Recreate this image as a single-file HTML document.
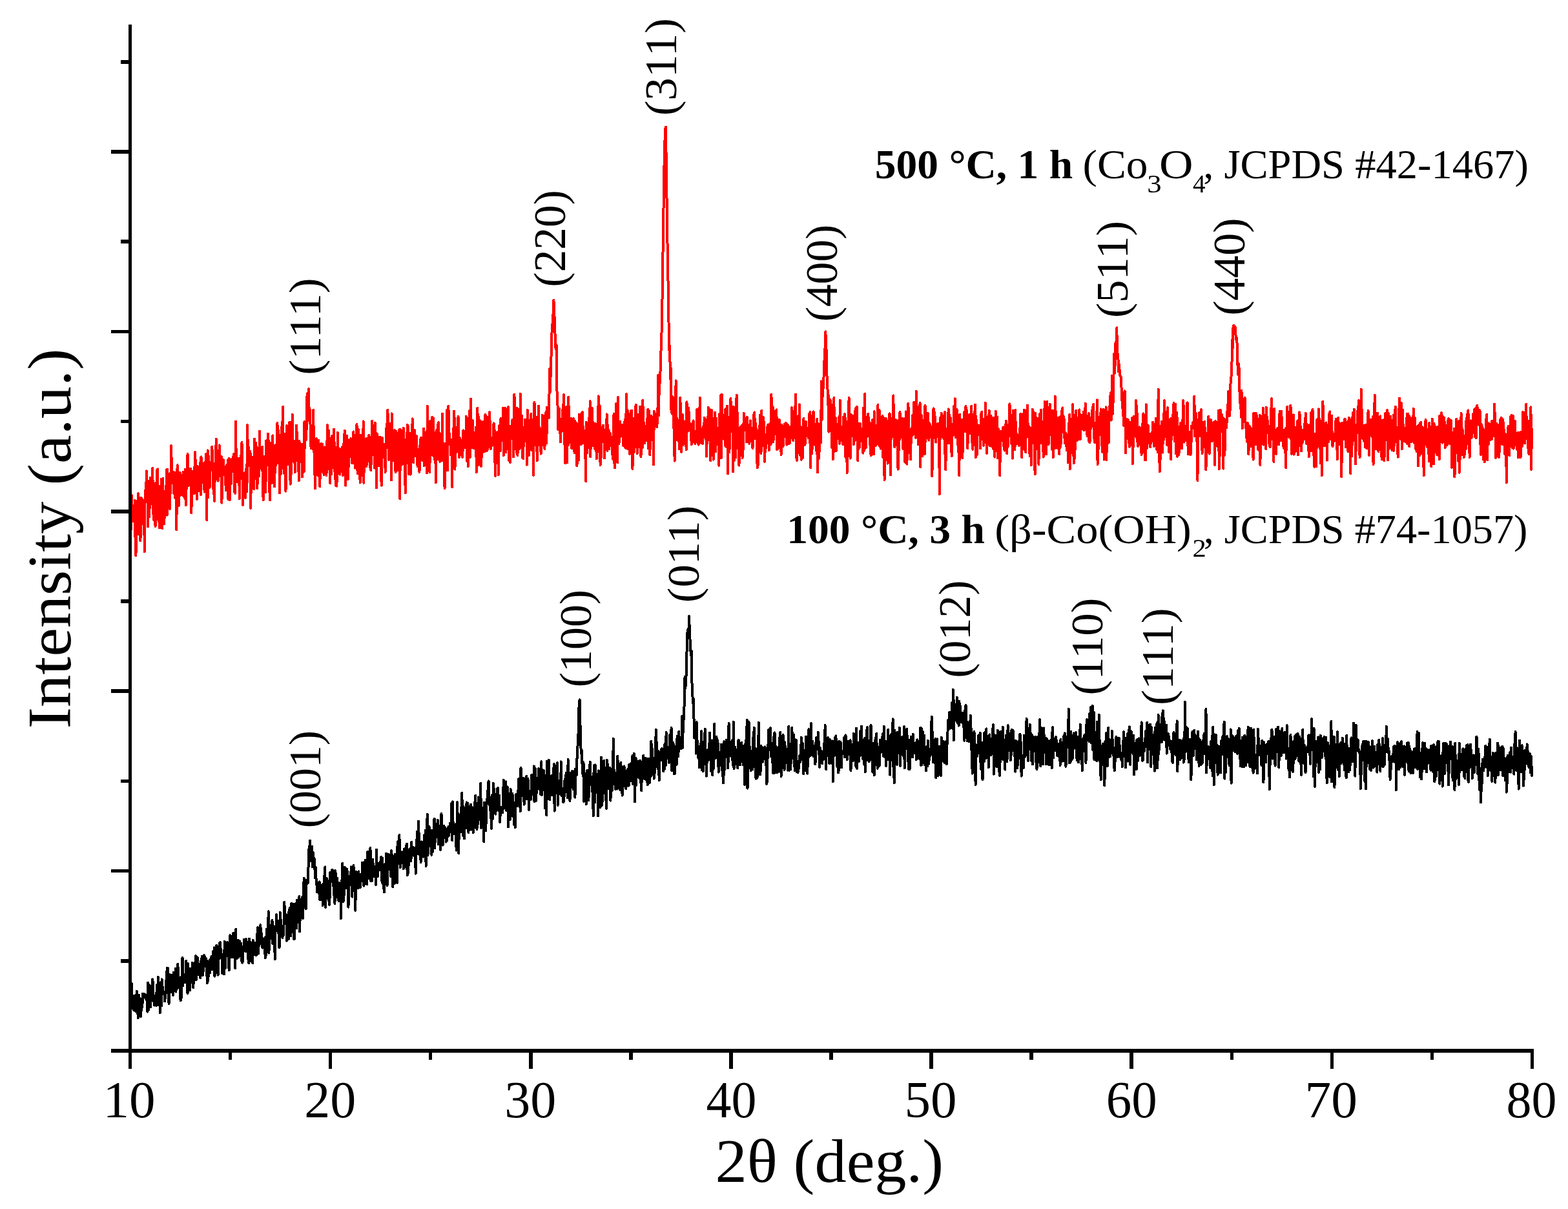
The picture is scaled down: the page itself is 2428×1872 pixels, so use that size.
<!DOCTYPE html>
<html lang="en"><head><meta charset="utf-8"><title>XRD patterns</title>
<style>html,body{margin:0;padding:0;background:#fff}svg{display:block}text{font-family:"Liberation Serif", "DejaVu Serif", serif;fill:#000;white-space:pre}</style></head><body>
<svg width="2428" height="1872" viewBox="0 0 2428 1872">
<rect width="2428" height="1872" fill="#fff"/>
<path d="M201.5,1590.4 202.22,1558.6 202.95,1555 203.67,1522.9 204.39,1560.5 205.12,1555.3 205.84,1551.4 206.57,1563.4 207.29,1564.4 208.01,1541.6 208.74,1543.5 209.46,1548.8 210.18,1565.8 210.91,1563 211.63,1534.6 212.36,1536.6 213.08,1563.7 213.8,1576.1 214.53,1550.6 215.25,1540.8 215.97,1567.6 216.7,1545.6 217.42,1561.1 218.15,1573.7 218.87,1558.9 219.59,1549.9 220.32,1559.9 221.04,1538.7 221.76,1545.1 222.49,1539 223.21,1544 223.93,1539.6 224.66,1543.6 225.38,1540.4 226.11,1547 226.83,1546.3 227.55,1549.6 228.28,1566.6 229,1521.8 229.72,1564.3 230.45,1540.1 231.17,1525.3 231.9,1540.4 232.62,1544 233.34,1559 234.07,1526.4 234.79,1544.9 235.51,1543 236.24,1516.3 236.96,1523.2 237.69,1549.6 238.41,1550.7 239.13,1556.6 239.86,1547.5 240.58,1545 241.3,1540.3 242.03,1557 242.75,1525.2 243.47,1534.9 244.2,1542.5 244.92,1513 245.65,1556.1 246.37,1523.5 247.09,1533.5 247.82,1568 248.54,1521.5 249.26,1525.3 249.99,1557.2 250.71,1516.3 251.44,1525.3 252.16,1539.2 252.88,1537.8 253.61,1539.5 254.33,1535.5 255.05,1550.4 255.78,1544.7 256.5,1537.6 257.22,1517.7 257.95,1516.8 258.67,1498.9 259.4,1537.1 260.12,1499.1 260.84,1539.1 261.57,1553.9 262.29,1508.8 263.01,1513.8 263.74,1516.4 264.46,1535.9 265.19,1509.7 265.91,1520 266.63,1513.7 267.36,1517.2 268.08,1540.8 268.8,1505.8 269.53,1520.7 270.25,1523.5 270.98,1532.4 271.7,1500 272.42,1535.7 273.15,1524.6 273.87,1531.2 274.59,1518.2 275.32,1492.7 276.04,1506.8 276.76,1528.9 277.49,1516.2 278.21,1514.5 278.94,1543.2 279.66,1549.3 280.38,1513.6 281.11,1544.3 281.83,1484.2 282.55,1483 283.28,1526.4 284,1508.5 284.73,1521.1 285.45,1519.7 286.17,1509.9 286.9,1521.6 287.62,1512.9 288.34,1487.7 289.07,1513.2 289.79,1512.3 290.52,1538 291.24,1492.1 291.96,1508.6 292.69,1501.7 293.41,1505.6 294.13,1533.5 294.86,1512.8 295.58,1499.7 296.3,1508.6 297.03,1517.9 297.75,1490.8 298.48,1501.2 299.2,1529.1 299.92,1517.9 300.65,1503.3 301.37,1496.6 302.09,1501 302.82,1480.1 303.54,1517.4 304.27,1507.6 304.99,1504 305.71,1482.4 306.44,1490.6 307.16,1508.9 307.88,1504.4 308.61,1492.7 309.33,1507.6 310.06,1514.1 310.78,1489 311.5,1490.7 312.23,1485.4 312.95,1480.8 313.67,1510.1 314.4,1505.2 315.12,1502.1 315.84,1479.1 316.57,1480.6 317.29,1494.6 318.02,1489.2 318.74,1496.8 319.46,1484.3 320.19,1504.6 320.91,1522.4 321.63,1518 322.36,1518.7 323.08,1493.9 323.81,1507 324.53,1486.5 325.25,1506.3 325.98,1485.8 326.7,1483.8 327.42,1481.2 328.15,1501.4 328.87,1494.3 329.59,1492.6 330.32,1472.5 331.04,1491.2 331.77,1467.4 332.49,1511.7 333.21,1486 333.94,1490.6 334.66,1485.7 335.38,1463.5 336.11,1466.3 336.83,1485.7 337.56,1509.6 338.28,1469.1 339,1474.7 339.73,1484.1 340.45,1459.6 341.17,1459.1 341.9,1477.7 342.62,1482.7 343.35,1477.3 344.07,1507.1 344.79,1480 345.52,1487.8 346.24,1507.1 346.96,1508.5 347.69,1457.6 348.41,1475.1 349.13,1498.8 349.86,1459.6 350.58,1466 351.31,1460.1 352.03,1458.9 352.75,1462 353.48,1481.2 354.2,1498.3 354.92,1502.2 355.65,1477.7 356.37,1448.2 357.1,1476.1 357.82,1471.7 358.54,1482 359.27,1474.2 359.99,1449.3 360.71,1482.1 361.44,1444.7 362.16,1464.7 362.89,1479.6 363.61,1479.9 364.33,1499.1 365.06,1438.9 365.78,1478.9 366.5,1484.2 367.23,1468.1 367.95,1482.8 368.67,1456 369.4,1482.5 370.12,1480.3 370.85,1456.9 371.57,1461.3 372.29,1468.1 373.02,1460.9 373.74,1487 374.46,1472.8 375.19,1490.7 375.91,1488.2 376.64,1470.1 377.36,1466 378.08,1454.5 378.81,1456.3 379.53,1456.1 380.25,1473.2 380.98,1454.2 381.7,1468.2 382.43,1469.7 383.15,1458.9 383.87,1463.2 384.6,1488.7 385.32,1491.1 386.04,1453.4 386.77,1461.8 387.49,1458.8 388.21,1459.9 388.94,1488.2 389.66,1474.3 390.39,1483.2 391.11,1491.1 391.83,1455.8 392.56,1459.2 393.28,1462.3 394,1477.8 394.73,1459.7 395.45,1471 396.18,1479.1 396.9,1478.7 397.62,1466.9 398.35,1447.7 399.07,1436 399.79,1476.7 400.52,1465.7 401.24,1444.2 401.96,1450.3 402.69,1450.8 403.41,1432.2 404.14,1460.8 404.86,1444.7 405.58,1451.7 406.31,1467.6 407.03,1453.9 407.75,1463.7 408.48,1461.3 409.2,1454.7 409.93,1454.5 410.65,1483.2 411.37,1450.4 412.1,1478.7 412.82,1438.6 413.54,1463.5 414.27,1454.1 414.99,1440.1 415.72,1411.2 416.44,1475.8 417.16,1432.6 417.89,1435.1 418.61,1451.1 419.33,1449.5 420.06,1452.7 420.78,1444 421.5,1425.1 422.23,1460.9 422.95,1433.2 423.68,1449.8 424.4,1455 425.12,1464.4 425.85,1485 426.57,1440.1 427.29,1440.7 428.02,1416.3 428.74,1432.2 429.47,1428.1 430.19,1425.5 430.91,1444.9 431.64,1437.2 432.36,1467.1 433.08,1465 433.81,1412.5 434.53,1441.7 435.26,1424.1 435.98,1447.3 436.7,1440.2 437.43,1451.9 438.15,1441.2 438.87,1447.7 439.6,1430.3 440.32,1396.7 441.04,1415.6 441.77,1419.8 442.49,1424.6 443.22,1416.1 443.94,1456.7 444.66,1427.2 445.39,1449.8 446.11,1423.2 446.83,1454.2 447.56,1408.9 448.28,1435.7 449.01,1405.5 449.73,1431.7 450.45,1449.4 451.18,1398.8 451.9,1409.4 452.62,1425.6 453.35,1418.2 454.07,1399.8 454.8,1438.1 455.52,1454.5 456.24,1438.8 456.97,1422.4 457.69,1399.3 458.41,1408.5 459.14,1437.2 459.86,1393.5 460.58,1406.5 461.31,1422.3 462.03,1428.1 462.76,1424.2 463.48,1387.9 464.2,1442.6 464.93,1405.6 465.65,1407.3 466.37,1406 467.1,1401.5 467.82,1389.2 468.55,1397.4 469.27,1421.9 469.99,1378.2 470.72,1360.1 471.44,1402.2 472.16,1395.4 472.89,1397 473.61,1407.2 474.33,1362.9 475.06,1368.8 475.78,1365.6 476.51,1367.7 477.23,1356 477.95,1323.5 478.68,1311 479.4,1320 480.12,1301.4 480.85,1333.4 481.57,1314.7 482.3,1315.9 483.02,1310.6 483.74,1342.4 484.47,1327.6 485.19,1320.4 485.91,1336.1 486.64,1329.9 487.36,1343.5 488.09,1359.3 488.81,1342.4 489.53,1359.8 490.26,1365.3 490.98,1381.3 491.7,1378 492.43,1373.4 493.15,1366.8 493.87,1383.9 494.6,1365.5 495.32,1393.1 496.05,1384.4 496.77,1392.8 497.49,1376.4 498.22,1372.2 498.94,1370.5 499.66,1402 500.39,1380.6 501.11,1380.2 501.84,1356.6 502.56,1382.3 503.28,1342.4 504.01,1404.7 504.73,1378.7 505.45,1382.4 506.18,1360.3 506.9,1365 507.63,1390.9 508.35,1377.7 509.07,1387.4 509.8,1400.8 510.52,1390.6 511.24,1350.9 511.97,1364.3 512.69,1361.7 513.41,1364.8 514.14,1346.8 514.86,1346.9 515.59,1366.2 516.31,1368.1 517.03,1385.2 517.76,1371.5 518.48,1399.2 519.2,1348.2 519.93,1354.4 520.65,1379.1 521.38,1370.5 522.1,1359.4 522.82,1386.5 523.55,1391.4 524.27,1394.7 524.99,1366.9 525.72,1372.4 526.44,1375.9 527.17,1372.8 527.89,1422.4 528.61,1363.7 529.34,1376.8 530.06,1336.9 530.78,1382.4 531.51,1396.4 532.23,1368.8 532.95,1385.8 533.68,1343.1 534.4,1362.9 535.13,1344.1 535.85,1372.4 536.57,1375.3 537.3,1345.5 538.02,1353 538.74,1356.6 539.47,1404.8 540.19,1363.5 540.92,1366.2 541.64,1369.8 542.36,1368.3 543.09,1359.4 543.81,1342.3 544.53,1351.8 545.26,1388.6 545.98,1365.6 546.7,1355.3 547.43,1339.9 548.15,1359.3 548.88,1360.2 549.6,1349.3 550.32,1409.8 551.05,1349.5 551.77,1355.5 552.49,1371.5 553.22,1360.9 553.94,1375.3 554.67,1352.9 555.39,1349.4 556.11,1363.3 556.84,1358.7 557.56,1374.3 558.28,1361 559.01,1353.5 559.73,1360.9 560.46,1363.9 561.18,1335.5 561.9,1350.1 562.63,1346.9 563.35,1371.7 564.07,1344.2 564.8,1369 565.52,1331.8 566.24,1350.1 566.97,1368.4 567.69,1346.5 568.42,1369.4 569.14,1319 569.86,1350.3 570.59,1352.3 571.31,1347.5 572.03,1326 572.76,1360 573.48,1313 574.21,1364.3 574.93,1353.2 575.65,1364.5 576.38,1344 577.1,1330.6 577.82,1339.5 578.55,1340.1 579.27,1357 580,1342 580.72,1353.5 581.44,1354.5 582.17,1369.9 582.89,1315.4 583.61,1339.6 584.34,1357.1 585.06,1356.9 585.78,1336.6 586.51,1340.9 587.23,1343.4 587.96,1346.8 588.68,1335.7 589.4,1334.3 590.13,1326.7 590.85,1337.9 591.57,1366.8 592.3,1328.7 593.02,1359.3 593.75,1375.4 594.47,1346.1 595.19,1381.6 595.92,1339.6 596.64,1369.2 597.36,1340.1 598.09,1321.7 598.81,1345.8 599.54,1371.1 600.26,1330 600.98,1346.7 601.71,1322.7 602.43,1324 603.15,1344.9 603.88,1333.9 604.6,1345.9 605.32,1357.3 606.05,1317.1 606.77,1324.3 607.5,1335.3 608.22,1373 608.94,1328.6 609.67,1325.7 610.39,1340.2 611.11,1367.8 611.84,1322.8 612.56,1326.7 613.29,1331.8 614.01,1343.3 614.73,1366.9 615.46,1310.3 616.18,1303.3 616.9,1331.5 617.63,1337.4 618.35,1293.1 619.07,1317.9 619.8,1343.3 620.52,1318.4 621.25,1334.4 621.97,1328.7 622.69,1336.3 623.42,1332.2 624.14,1328.9 624.86,1345 625.59,1314.7 626.31,1325.2 627.04,1341.9 627.76,1313.5 628.48,1316.1 629.21,1309.8 629.93,1306.5 630.65,1355.1 631.38,1328.5 632.1,1351.9 632.83,1332.2 633.55,1320.7 634.27,1314.4 635,1323.1 635.72,1317.5 636.44,1333.2 637.17,1303.6 637.89,1319.9 638.61,1324.4 639.34,1312.5 640.06,1312 640.79,1324.7 641.51,1324.5 642.23,1312.9 642.96,1314 643.68,1352.6 644.4,1322.8 645.13,1311 645.85,1287.8 646.58,1307.1 647.3,1322.1 648.02,1271.4 648.75,1296.8 649.47,1322.9 650.19,1320.2 650.92,1319.9 651.64,1335 652.37,1303.3 653.09,1318.5 653.81,1303.6 654.54,1324.1 655.26,1326.6 655.98,1314.8 656.71,1318.7 657.43,1292.7 658.15,1315.8 658.88,1285.8 659.6,1341.1 660.33,1323.4 661.05,1279 661.77,1260.6 662.5,1324.4 663.22,1288.2 663.94,1310.5 664.67,1280.2 665.39,1301.5 666.12,1289.5 666.84,1309.5 667.56,1293.5 668.29,1323.8 669.01,1285.9 669.73,1319.4 670.46,1296.7 671.18,1305.5 671.91,1270.8 672.63,1267.8 673.35,1313.2 674.08,1275.3 674.8,1288.9 675.52,1288.8 676.25,1279.1 676.97,1296.4 677.69,1270.1 678.42,1273.2 679.14,1307.5 679.87,1278.4 680.59,1303.5 681.31,1301.7 682.04,1315.9 682.76,1297.2 683.48,1259.8 684.21,1278.2 684.93,1281.5 685.66,1308.7 686.38,1293.1 687.1,1279 687.83,1293.8 688.55,1280.2 689.27,1294.9 690,1287.6 690.72,1303.7 691.44,1290 692.17,1301 692.89,1283.2 693.62,1295.3 694.34,1280.2 695.06,1293.4 695.79,1285.7 696.51,1279.5 697.23,1274.4 697.96,1276.3 698.68,1288.5 699.41,1243.3 700.13,1301 700.85,1241.3 701.58,1275.8 702.3,1273.1 703.02,1290.8 703.75,1281.7 704.47,1276.6 705.2,1278.3 705.92,1292.9 706.64,1316.6 707.37,1282.3 708.09,1242.3 708.81,1268.2 709.54,1281.8 710.26,1321 710.98,1261.5 711.71,1267.4 712.43,1282.7 713.16,1278.3 713.88,1251 714.6,1288.3 715.33,1228 716.05,1266.8 716.77,1293.7 717.5,1249.1 718.22,1264.4 718.95,1298.6 719.67,1265 720.39,1251.9 721.12,1259 721.84,1282.6 722.56,1242.4 723.29,1257.2 724.01,1243.6 724.74,1248.1 725.46,1288.9 726.18,1264.8 726.91,1258.8 727.63,1273 728.35,1253.8 729.08,1245.5 729.8,1284.7 730.52,1279.7 731.25,1250.4 731.97,1276.1 732.7,1289 733.42,1271.8 734.14,1271.6 734.87,1242.5 735.59,1260.1 736.31,1231.7 737.04,1281.2 737.76,1258.6 738.49,1284.3 739.21,1248.2 739.93,1275.8 740.66,1234.4 741.38,1253.3 742.1,1269.2 742.83,1265.5 743.55,1258 744.28,1212.7 745,1281.7 745.72,1269.7 746.45,1277.9 747.17,1277.3 747.89,1251 748.62,1263.8 749.34,1303.3 750.06,1242.5 750.79,1263.1 751.51,1246.5 752.24,1286.3 752.96,1258.1 753.68,1237.7 754.41,1244.5 755.13,1231 755.85,1216.3 756.58,1209.4 757.3,1241 758.03,1234 758.75,1254.9 759.47,1238.3 760.2,1255.6 760.92,1282.8 761.64,1231.4 762.37,1230.5 763.09,1267.7 763.81,1212.7 764.54,1235 765.26,1221.2 765.99,1243.9 766.71,1241.7 767.43,1260.7 768.16,1230.1 768.88,1242.9 769.6,1241.8 770.33,1220.4 771.05,1220.2 771.78,1253.8 772.5,1255.3 773.22,1231.9 773.95,1272.8 774.67,1261.2 775.39,1252.4 776.12,1254.6 776.84,1249.6 777.57,1255.9 778.29,1258.2 779.01,1243.5 779.74,1207.7 780.46,1238.8 781.18,1227.3 781.91,1221 782.63,1251.2 783.35,1210.4 784.08,1254.7 784.8,1228.7 785.53,1218.5 786.25,1224.1 786.97,1280.5 787.7,1264.5 788.42,1232.8 789.14,1256.5 789.87,1269.1 790.59,1222 791.32,1231.5 792.04,1252.6 792.76,1242.9 793.49,1229.1 794.21,1264.5 794.93,1243.9 795.66,1248.7 796.38,1277.5 797.11,1242.6 797.83,1281.5 798.55,1238.7 799.28,1230.1 800,1234.8 800.72,1248 801.45,1243.8 802.17,1238.3 802.89,1206.1 803.62,1212.5 804.34,1226 805.07,1243.5 805.79,1256.2 806.51,1189 807.24,1226.7 807.96,1221.1 808.68,1226.7 809.41,1232 810.13,1213.4 810.86,1205.1 811.58,1245.7 812.3,1240.6 813.03,1219.5 813.75,1224.2 814.47,1214.2 815.2,1201.7 815.92,1237.1 816.65,1213.6 817.37,1205.6 818.09,1214.1 818.82,1253.9 819.54,1231.7 820.26,1227.6 820.99,1224.6 821.71,1238.4 822.43,1235.7 823.16,1199.8 823.88,1217.6 824.61,1210.3 825.33,1224.9 826.05,1219.6 826.78,1186.3 827.5,1241.1 828.22,1224.5 828.95,1190 829.67,1240.4 830.4,1221.5 831.12,1227.7 831.84,1219.4 832.57,1221.7 833.29,1210 834.01,1190.1 834.74,1207.7 835.46,1221.4 836.18,1218.6 836.91,1229.7 837.63,1216 838.36,1179.2 839.08,1230.7 839.8,1203.3 840.53,1194.1 841.25,1211.3 841.97,1193.3 842.7,1223 843.42,1200.5 844.15,1251.7 844.87,1211.7 845.59,1206.3 846.32,1262 847.04,1178.6 847.76,1200.5 848.49,1202.2 849.21,1209.4 849.94,1177 850.66,1215.5 851.38,1238.3 852.11,1207.2 852.83,1213.5 853.55,1222.1 854.28,1200.5 855,1206.6 855.72,1231.5 856.45,1217.3 857.17,1192.8 857.9,1183.2 858.62,1255.8 859.34,1221.7 860.07,1186.3 860.79,1216.3 861.51,1225.9 862.24,1215.6 862.96,1181.3 863.69,1246.9 864.41,1224.5 865.13,1210.1 865.86,1226.1 866.58,1209.6 867.3,1207.7 868.03,1229.9 868.75,1179.4 869.48,1231.9 870.2,1220.7 870.92,1227.4 871.65,1230.3 872.37,1242.2 873.09,1240 873.82,1229.7 874.54,1206.6 875.26,1226 875.99,1204.9 876.71,1196.7 877.44,1221.6 878.16,1219.7 878.88,1235.1 879.61,1176 880.33,1223.9 881.05,1225.1 881.78,1214.6 882.5,1239.9 883.23,1197.1 883.95,1218.2 884.67,1205.2 885.4,1211.1 886.12,1194.2 886.84,1208 887.57,1222.4 888.29,1211.4 889.02,1214.6 889.74,1193.8 890.46,1234.6 891.19,1190.3 891.91,1198 892.63,1200.7 893.36,1175.2 894.08,1173.7 894.8,1141.9 895.53,1136.4 896.25,1099.1 896.98,1087.9 897.7,1083.3 898.42,1118.5 899.15,1152 899.87,1166.3 900.59,1161.6 901.32,1179.7 902.04,1192.6 902.77,1201.7 903.49,1180.4 904.21,1240.8 904.94,1205.4 905.66,1210.1 906.38,1201 907.11,1208.4 907.83,1245.3 908.55,1193.5 909.28,1201.1 910,1192.4 910.73,1201 911.45,1239.1 912.17,1199.9 912.9,1202.9 913.62,1179.7 914.34,1204.7 915.07,1215.3 915.79,1202.6 916.52,1204.2 917.24,1226 917.96,1221 918.69,1263.4 919.41,1197.7 920.13,1185.2 920.86,1242.5 921.58,1184.5 922.31,1223.2 923.03,1207.8 923.75,1198.5 924.48,1227.7 925.2,1198.4 925.92,1263.4 926.65,1193.4 927.37,1220.3 928.09,1234.9 928.82,1194.3 929.54,1250.2 930.27,1227 930.99,1172.8 931.71,1236.9 932.44,1246.6 933.16,1206.4 933.88,1207.5 934.61,1217.8 935.33,1178 936.06,1213.7 936.78,1228.2 937.5,1201.2 938.23,1231.5 938.95,1251.9 939.67,1176.6 940.4,1179 941.12,1197.8 941.85,1221.5 942.57,1216.4 943.29,1193 944.02,1188.9 944.74,1195.5 945.46,1239.6 946.19,1190.9 946.91,1197 947.63,1224.6 948.36,1201.7 949.08,1188.7 949.81,1143.8 950.53,1211.6 951.25,1193 951.98,1197.9 952.7,1221.8 953.42,1197.6 954.15,1208.5 954.87,1220 955.6,1221.7 956.32,1170.6 957.04,1193.8 957.77,1196.1 958.49,1203.5 959.21,1215.8 959.94,1222.9 960.66,1192.7 961.39,1181 962.11,1203.6 962.83,1189.1 963.56,1231.8 964.28,1205.7 965,1199.7 965.73,1217 966.45,1186.4 967.17,1191.5 967.9,1194.1 968.62,1209.1 969.35,1221 970.07,1211 970.79,1210 971.52,1191.4 972.24,1202.2 972.96,1190.9 973.69,1216.6 974.41,1183.6 975.14,1193.2 975.86,1198.9 976.58,1209 977.31,1181.3 978.03,1189.8 978.75,1179.3 979.48,1170.1 980.2,1213.9 980.92,1201.9 981.65,1166.8 982.37,1175.8 983.1,1241.4 983.82,1181.9 984.54,1173.9 985.27,1215.9 985.99,1183.5 986.71,1185.3 987.44,1202.3 988.16,1179 988.89,1191.8 989.61,1194.2 990.33,1205.1 991.06,1177.8 991.78,1211.1 992.5,1196.9 993.23,1224.2 993.95,1194.3 994.68,1180.5 995.4,1180.3 996.12,1169.7 996.85,1189.3 997.57,1188 998.29,1205.9 999.02,1190.4 999.74,1173.7 1000.46,1207.8 1001.19,1180.6 1001.91,1193.1 1002.64,1215.5 1003.36,1211.8 1004.08,1174.5 1004.81,1185.1 1005.53,1212.3 1006.25,1205.2 1006.98,1196.5 1007.7,1202.7 1008.43,1147.5 1009.15,1180 1009.87,1159.4 1010.6,1173.2 1011.32,1177.3 1012.04,1192.8 1012.77,1205.7 1013.49,1198 1014.22,1187.8 1014.94,1176 1015.66,1130 1016.39,1186.6 1017.11,1149.9 1017.83,1179.6 1018.56,1189.9 1019.28,1163 1020,1183.8 1020.73,1208.2 1021.45,1174.4 1022.18,1177.6 1022.9,1177.4 1023.62,1160.5 1024.35,1169 1025.07,1159.1 1025.79,1171.4 1026.52,1161.9 1027.24,1194.1 1027.97,1173.4 1028.69,1191.2 1029.41,1152.2 1030.14,1173.9 1030.86,1184.8 1031.58,1134 1032.31,1162 1033.03,1170.8 1033.76,1174.2 1034.48,1165.7 1035.2,1164 1035.93,1180.9 1036.65,1149.2 1037.37,1137.4 1038.1,1160.4 1038.82,1173.8 1039.54,1127 1040.27,1193 1040.99,1168.1 1041.72,1176.7 1042.44,1149.9 1043.16,1163.4 1043.89,1198.3 1044.61,1198.3 1045.33,1173.6 1046.06,1155.7 1046.78,1157.8 1047.51,1184 1048.23,1144.8 1048.95,1139.7 1049.68,1152.5 1050.4,1170.9 1051.12,1132.8 1051.85,1156.7 1052.57,1155.5 1053.29,1149.1 1054.02,1141.8 1054.74,1159.3 1055.47,1149.1 1056.19,1109.1 1056.91,1158.2 1057.64,1130.6 1058.36,1120.1 1059.08,1100 1059.81,1090.3 1060.53,1047.7 1061.26,1065 1061.98,1059.5 1062.7,1042.4 1063.43,1012.7 1064.15,981 1064.87,977.4 1065.6,973.3 1066.32,981.9 1067.05,954.2 1067.77,974.1 1068.49,990 1069.22,1004.6 1069.94,1014.3 1070.66,1007.4 1071.39,1056.6 1072.11,1067.4 1072.83,1088.5 1073.56,1080.7 1074.28,1098.8 1075.01,1142.1 1075.73,1123.4 1076.45,1132.1 1077.18,1125.8 1077.9,1166.7 1078.62,1118.2 1079.35,1141.2 1080.07,1161.4 1080.8,1154.9 1081.52,1174.5 1082.24,1167.3 1082.97,1188.5 1083.69,1157.9 1084.41,1160.5 1085.14,1169 1085.86,1132.1 1086.59,1192.4 1087.31,1148.9 1088.03,1187.9 1088.76,1194.4 1089.48,1186.4 1090.2,1170.7 1090.93,1155.7 1091.65,1128.7 1092.37,1178.7 1093.1,1163.6 1093.82,1201.7 1094.55,1162.8 1095.27,1180.6 1095.99,1161.1 1096.72,1176.9 1097.44,1162.3 1098.16,1165.6 1098.89,1134.4 1099.61,1155.7 1100.34,1166 1101.06,1193.9 1101.78,1174.1 1102.51,1146.5 1103.23,1200.1 1103.95,1175.8 1104.68,1190.8 1105.4,1152.3 1106.13,1120.7 1106.85,1154.7 1107.57,1150 1108.3,1173.9 1109.02,1140.5 1109.74,1152.3 1110.47,1143.6 1111.19,1171.2 1111.91,1151.5 1112.64,1195.6 1113.36,1184 1114.09,1185 1114.81,1164.5 1115.53,1173 1116.26,1185.4 1116.98,1152.8 1117.7,1192.8 1118.43,1166.8 1119.15,1193.1 1119.88,1212.5 1120.6,1198.9 1121.32,1148.2 1122.05,1191.9 1122.77,1162 1123.49,1160 1124.22,1163.3 1124.94,1146 1125.66,1172.3 1126.39,1154.3 1127.11,1189.4 1127.84,1173.6 1128.56,1119.8 1129.28,1149.4 1130.01,1148.4 1130.73,1154.3 1131.45,1154.7 1132.18,1170.9 1132.9,1163.9 1133.63,1146.9 1134.35,1175.4 1135.07,1184.7 1135.8,1117.7 1136.52,1190.1 1137.24,1175.3 1137.97,1156.6 1138.69,1159.6 1139.42,1166.9 1140.14,1177.3 1140.86,1170.2 1141.59,1186.1 1142.31,1189.5 1143.03,1148.4 1143.76,1145.6 1144.48,1164.9 1145.2,1175.7 1145.93,1184.6 1146.65,1179.5 1147.38,1178.9 1148.1,1149.8 1148.82,1174.1 1149.55,1155 1150.27,1174.9 1150.99,1184.4 1151.72,1154.5 1152.44,1162.3 1153.17,1214.9 1153.89,1152.9 1154.61,1157.5 1155.34,1146.8 1156.06,1140.5 1156.78,1115 1157.51,1220.8 1158.23,1155.3 1158.96,1152 1159.68,1118.1 1160.4,1181.2 1161.13,1156.4 1161.85,1165.5 1162.57,1193.3 1163.3,1163.8 1164.02,1168.9 1164.74,1169.8 1165.47,1191.5 1166.19,1141.8 1166.92,1156.1 1167.64,1126.7 1168.36,1166.9 1169.09,1179 1169.81,1158.7 1170.53,1205.7 1171.26,1185.8 1171.98,1205 1172.71,1169.8 1173.43,1202.3 1174.15,1157.3 1174.88,1119 1175.6,1169.3 1176.32,1159.2 1177.05,1199.5 1177.77,1193 1178.5,1154.6 1179.22,1180.8 1179.94,1169.2 1180.67,1170.5 1181.39,1179.3 1182.11,1158.2 1182.84,1171.2 1183.56,1173.4 1184.28,1156.4 1185.01,1158.2 1185.73,1184.5 1186.46,1168.1 1187.18,1213.9 1187.9,1209.4 1188.63,1153.9 1189.35,1173.3 1190.07,1130.1 1190.8,1154.8 1191.52,1150.2 1192.25,1152.3 1192.97,1127.2 1193.69,1171.4 1194.42,1168.9 1195.14,1151.2 1195.86,1164.5 1196.59,1184.1 1197.31,1197.5 1198.03,1141.6 1198.76,1197.1 1199.48,1134.5 1200.21,1150.7 1200.93,1158.5 1201.65,1196 1202.38,1177.4 1203.1,1177 1203.82,1196.1 1204.55,1169.8 1205.27,1157.2 1206,1194.2 1206.72,1161.3 1207.44,1142.1 1208.17,1133.6 1208.89,1168.2 1209.61,1201.9 1210.34,1179.7 1211.06,1165.9 1211.79,1188.8 1212.51,1137.7 1213.23,1173.3 1213.96,1155 1214.68,1191.9 1215.4,1149.4 1216.13,1180.4 1216.85,1168.5 1217.57,1164.9 1218.3,1178.2 1219.02,1162.1 1219.75,1192.7 1220.47,1160.6 1221.19,1124.7 1221.92,1192.7 1222.64,1190.5 1223.36,1174.2 1224.09,1191.6 1224.81,1177.7 1225.54,1148.9 1226.26,1126.7 1226.98,1144.9 1227.71,1158.7 1228.43,1174.1 1229.15,1137.9 1229.88,1147.3 1230.6,1193.5 1231.33,1150.9 1232.05,1150.2 1232.77,1146.2 1233.5,1195.4 1234.22,1179 1234.94,1180.9 1235.67,1195.9 1236.39,1182.2 1237.11,1189.7 1237.84,1170.4 1238.56,1180.3 1239.29,1175.5 1240.01,1176.9 1240.73,1141.7 1241.46,1159.1 1242.18,1156.3 1242.9,1151 1243.63,1162 1244.35,1198.3 1245.08,1181.2 1245.8,1164.5 1246.52,1169.2 1247.25,1190.2 1247.97,1140.4 1248.69,1170 1249.42,1194.9 1250.14,1197.6 1250.87,1179.9 1251.59,1173 1252.31,1129.2 1253.04,1149.1 1253.76,1161.2 1254.48,1169.3 1255.21,1169.9 1255.93,1120.1 1256.65,1151.9 1257.38,1167.1 1258.1,1147.6 1258.83,1157.4 1259.55,1171.5 1260.27,1167.4 1261,1164.8 1261.72,1175.8 1262.44,1183.4 1263.17,1156 1263.89,1142.2 1264.62,1148.6 1265.34,1152.3 1266.06,1160.4 1266.79,1133.8 1267.51,1147.3 1268.23,1156.6 1268.96,1187.7 1269.68,1171.3 1270.4,1158.4 1271.13,1178.4 1271.85,1164.6 1272.58,1165.7 1273.3,1182 1274.02,1167.7 1274.75,1164 1275.47,1175.2 1276.19,1151.1 1276.92,1161.9 1277.64,1123 1278.37,1153.4 1279.09,1191.1 1279.81,1154.5 1280.54,1161 1281.26,1153.3 1281.98,1142.3 1282.71,1170.5 1283.43,1160.5 1284.16,1182.2 1284.88,1144.8 1285.6,1161.6 1286.33,1154.7 1287.05,1150.1 1287.77,1181.9 1288.5,1147.5 1289.22,1147.7 1289.94,1210.1 1290.67,1159.4 1291.39,1157 1292.12,1169.7 1292.84,1142.4 1293.56,1167.5 1294.29,1139.3 1295.01,1152 1295.73,1150.2 1296.46,1186.9 1297.18,1172.9 1297.91,1196.6 1298.63,1193.2 1299.35,1148 1300.08,1170.7 1300.8,1152.5 1301.52,1148.9 1302.25,1183.8 1302.97,1188.4 1303.7,1162.8 1304.42,1166.8 1305.14,1165.9 1305.87,1166.5 1306.59,1167.1 1307.31,1141.9 1308.04,1172.1 1308.76,1147.6 1309.48,1138.5 1310.21,1157.5 1310.93,1165.3 1311.66,1176.4 1312.38,1167.3 1313.1,1165.6 1313.83,1147.8 1314.55,1167.6 1315.27,1163.9 1316,1165.4 1316.72,1146.2 1317.45,1192.9 1318.17,1174.4 1318.89,1172.9 1319.62,1161.4 1320.34,1154.4 1321.06,1177.7 1321.79,1135.5 1322.51,1151.1 1323.24,1154.1 1323.96,1170.5 1324.68,1153.7 1325.41,1187 1326.13,1127.4 1326.85,1189.8 1327.58,1165.4 1328.3,1177.5 1329.02,1149.8 1329.75,1179.3 1330.47,1153.1 1331.2,1164 1331.92,1132.1 1332.64,1169.6 1333.37,1161.3 1334.09,1124.7 1334.81,1157 1335.54,1153 1336.26,1174.8 1336.99,1146.4 1337.71,1162.4 1338.43,1183.9 1339.16,1142.8 1339.88,1195.4 1340.6,1163.3 1341.33,1154.4 1342.05,1133.7 1342.77,1126.2 1343.5,1177.2 1344.22,1150 1344.95,1147.1 1345.67,1179.2 1346.39,1171.6 1347.12,1160.7 1347.84,1131.6 1348.56,1122.7 1349.29,1176.7 1350.01,1157.3 1350.74,1153.4 1351.46,1195.7 1352.18,1150.5 1352.91,1165.2 1353.63,1200.3 1354.35,1170.1 1355.08,1148 1355.8,1142.7 1356.53,1181.9 1357.25,1135.5 1357.97,1174.4 1358.7,1189.8 1359.42,1156.2 1360.14,1174.2 1360.87,1159.5 1361.59,1185.9 1362.31,1163.5 1363.04,1145.4 1363.76,1165.2 1364.49,1161.1 1365.21,1147 1365.93,1153.9 1366.66,1136.2 1367.38,1142.9 1368.1,1170.8 1368.83,1124.6 1369.55,1163.7 1370.28,1158.5 1371,1147.5 1371.72,1185.9 1372.45,1171.8 1373.17,1147.4 1373.89,1162.2 1374.62,1176.3 1375.34,1129.6 1376.07,1162.5 1376.79,1153.8 1377.51,1166 1378.24,1199.7 1378.96,1146.4 1379.68,1152.1 1380.41,1136.5 1381.13,1162.6 1381.85,1170.5 1382.58,1113.5 1383.3,1187.2 1384.03,1189.7 1384.75,1212.3 1385.47,1130.8 1386.2,1167.7 1386.92,1160.2 1387.64,1181.5 1388.37,1153.3 1389.09,1184 1389.82,1133.7 1390.54,1166.8 1391.26,1150.8 1391.99,1150.1 1392.71,1126.5 1393.43,1151.3 1394.16,1185.8 1394.88,1147 1395.61,1154.6 1396.33,1161.5 1397.05,1141.2 1397.78,1164.2 1398.5,1170 1399.22,1154.6 1399.95,1125.1 1400.67,1189.2 1401.39,1160.1 1402.12,1158.7 1402.84,1155.2 1403.57,1148.3 1404.29,1128.8 1405.01,1158.2 1405.74,1162.1 1406.46,1178.6 1407.18,1191.4 1407.91,1145.9 1408.63,1190.9 1409.36,1161 1410.08,1170.8 1410.8,1140.7 1411.53,1166.1 1412.25,1142.1 1412.97,1172.6 1413.7,1136.5 1414.42,1160.2 1415.14,1151.7 1415.87,1166.4 1416.59,1164.4 1417.32,1162.6 1418.04,1150.2 1418.76,1176.5 1419.49,1170.8 1420.21,1145.3 1420.93,1174.3 1421.66,1147.8 1422.38,1161.4 1423.11,1157.9 1423.83,1158 1424.55,1175.4 1425.28,1126.9 1426,1184.9 1426.72,1127.5 1427.45,1184.4 1428.17,1171.1 1428.9,1132.8 1429.62,1167.2 1430.34,1154.3 1431.07,1138.5 1431.79,1184.1 1432.51,1182.4 1433.24,1167.9 1433.96,1193.6 1434.68,1163.5 1435.41,1155.4 1436.13,1186.6 1436.86,1147 1437.58,1176.5 1438.3,1182.8 1439.03,1165.2 1439.75,1163 1440.47,1170.5 1441.2,1165.8 1441.92,1148.1 1442.65,1109.6 1443.37,1151.5 1444.09,1134 1444.82,1180.4 1445.54,1152.5 1446.26,1165.8 1446.99,1176 1447.71,1181.4 1448.44,1143.9 1449.16,1204 1449.88,1179.4 1450.61,1173.9 1451.33,1144.3 1452.05,1201.2 1452.78,1174.3 1453.5,1183.4 1454.22,1155.6 1454.95,1199 1455.67,1190.5 1456.4,1159.3 1457.12,1200.9 1457.84,1141.6 1458.57,1178.5 1459.29,1174 1460.01,1174.8 1460.74,1147.8 1461.46,1153.9 1462.19,1179.6 1462.91,1181.3 1463.63,1158.6 1464.36,1154 1465.08,1148.3 1465.8,1183.1 1466.53,1152 1467.25,1142.5 1467.98,1115 1468.7,1114.1 1469.42,1122.8 1470.15,1102.6 1470.87,1128.2 1471.59,1126.2 1472.32,1110.1 1473.04,1116.7 1473.76,1119.1 1474.49,1087.5 1475.21,1128 1475.94,1068 1476.66,1146.1 1477.38,1085 1478.11,1108.8 1478.83,1101.4 1479.55,1113.4 1480.28,1093.9 1481,1115.4 1481.73,1080.1 1482.45,1119.1 1483.17,1101 1483.9,1112.2 1484.62,1123.6 1485.34,1086.1 1486.07,1095.9 1486.79,1093.3 1487.51,1104 1488.24,1108.6 1488.96,1118.6 1489.69,1109.8 1490.41,1103.6 1491.13,1116.3 1491.86,1125.6 1492.58,1125.4 1493.3,1146.8 1494.03,1100.2 1494.75,1116.8 1495.48,1092 1496.2,1105.5 1496.92,1131.8 1497.65,1147.1 1498.37,1118.4 1499.09,1139.7 1499.82,1136.1 1500.54,1148.3 1501.27,1146.3 1501.99,1136.8 1502.71,1107.5 1503.44,1123.7 1504.16,1160.9 1504.88,1153.5 1505.61,1197.6 1506.33,1158.3 1507.05,1176.1 1507.78,1136.8 1508.5,1133.1 1509.23,1162.9 1509.95,1192.1 1510.67,1215 1511.4,1153.2 1512.12,1167.1 1512.84,1171.3 1513.57,1168 1514.29,1159.5 1515.02,1139.7 1515.74,1138.2 1516.46,1149.6 1517.19,1156.7 1517.91,1135 1518.63,1190.6 1519.36,1170.9 1520.08,1149.4 1520.81,1174.2 1521.53,1207.1 1522.25,1163.9 1522.98,1163.5 1523.7,1179.4 1524.42,1134.3 1525.15,1148.7 1525.87,1145 1526.59,1174.3 1527.32,1128.3 1528.04,1165.5 1528.77,1150.3 1529.49,1153.9 1530.21,1148.9 1530.94,1188.1 1531.66,1143.3 1532.38,1137.3 1533.11,1165.2 1533.83,1148.5 1534.56,1169.1 1535.28,1158 1536,1159.8 1536.73,1160.1 1537.45,1128.1 1538.17,1122.1 1538.9,1198.7 1539.62,1137.5 1540.35,1169.2 1541.07,1138.5 1541.79,1157.3 1542.52,1154.1 1543.24,1187.5 1543.96,1155.2 1544.69,1130.9 1545.41,1133 1546.13,1164.8 1546.86,1176.1 1547.58,1198.5 1548.31,1200.8 1549.03,1133 1549.75,1156.8 1550.48,1136.6 1551.2,1164.4 1551.92,1174.7 1552.65,1125.5 1553.37,1175.8 1554.1,1173.1 1554.82,1154.3 1555.54,1148 1556.27,1191.6 1556.99,1156.2 1557.71,1139 1558.44,1161.1 1559.16,1179.4 1559.88,1172.5 1560.61,1123.2 1561.33,1134.1 1562.06,1151.4 1562.78,1161.8 1563.5,1161.8 1564.23,1135.9 1564.95,1177 1565.67,1168.2 1566.4,1130.1 1567.12,1141.3 1567.85,1156.8 1568.57,1131.1 1569.29,1159.4 1570.02,1162.3 1570.74,1150.9 1571.46,1170.3 1572.19,1194.6 1572.91,1146.9 1573.64,1168.3 1574.36,1150.7 1575.08,1189.2 1575.81,1183.7 1576.53,1159 1577.25,1147.8 1577.98,1174.4 1578.7,1157.9 1579.42,1136.6 1580.15,1140.7 1580.87,1156 1581.6,1201.8 1582.32,1180.6 1583.04,1186.3 1583.77,1177.6 1584.49,1186.3 1585.21,1188.7 1585.94,1138.8 1586.66,1171.1 1587.39,1171.5 1588.11,1168.8 1588.83,1167.3 1589.56,1113 1590.28,1162.7 1591,1134.3 1591.73,1177.9 1592.45,1149.6 1593.18,1154 1593.9,1158 1594.62,1121.7 1595.35,1155.8 1596.07,1135.8 1596.79,1177.8 1597.52,1149.2 1598.24,1138.2 1598.96,1183.3 1599.69,1153.5 1600.41,1141.2 1601.14,1157 1601.86,1155.3 1602.58,1163.5 1603.31,1140.6 1604.03,1179.9 1604.75,1165.2 1605.48,1190.9 1606.2,1170 1606.93,1141.1 1607.65,1179.8 1608.37,1154.3 1609.1,1161 1609.82,1114.1 1610.54,1136.1 1611.27,1186 1611.99,1180.7 1612.72,1127 1613.44,1165.6 1614.16,1165.8 1614.89,1183.6 1615.61,1139.2 1616.33,1127.3 1617.06,1165.2 1617.78,1147 1618.5,1148.3 1619.23,1142.7 1619.95,1183.6 1620.68,1143.4 1621.4,1178.2 1622.12,1171.3 1622.85,1147.2 1623.57,1178.5 1624.29,1184.2 1625.02,1166.3 1625.74,1155 1626.47,1174.2 1627.19,1145.7 1627.91,1169.1 1628.64,1189.5 1629.36,1134.8 1630.08,1126.3 1630.81,1173.7 1631.53,1143.2 1632.25,1150.9 1632.98,1162.2 1633.7,1148 1634.43,1161.7 1635.15,1141.3 1635.87,1149.5 1636.6,1157.6 1637.32,1170.2 1638.04,1151.6 1638.77,1166 1639.49,1171.2 1640.22,1169.2 1640.94,1157.2 1641.66,1185 1642.39,1145.1 1643.11,1180 1643.83,1178.9 1644.56,1176.9 1645.28,1150 1646.01,1178.3 1646.73,1168.8 1647.45,1138.9 1648.18,1153.7 1648.9,1135.4 1649.62,1166.9 1650.35,1186.9 1651.07,1177.7 1651.79,1141.2 1652.52,1141.1 1653.24,1156 1653.97,1156.7 1654.69,1098 1655.41,1153.6 1656.14,1181.6 1656.86,1149.8 1657.58,1179.9 1658.31,1133 1659.03,1149.4 1659.76,1160.2 1660.48,1175.7 1661.2,1169.7 1661.93,1143.5 1662.65,1135.5 1663.37,1158.7 1664.1,1157.4 1664.82,1151.7 1665.55,1158.2 1666.27,1134.2 1666.99,1168.2 1667.72,1177.3 1668.44,1141.1 1669.16,1141.3 1669.89,1180.5 1670.61,1176.8 1671.33,1140.5 1672.06,1141.8 1672.78,1121.5 1673.51,1162 1674.23,1155.2 1674.95,1150.7 1675.68,1193 1676.4,1144.3 1677.12,1144.1 1677.85,1149.8 1678.57,1139.9 1679.3,1163.4 1680.02,1137.5 1680.74,1141.6 1681.47,1181.2 1682.19,1126.2 1682.91,1114.1 1683.64,1137.4 1684.36,1122.6 1685.09,1121.6 1685.81,1136.5 1686.53,1148.1 1687.26,1104.7 1687.98,1128.2 1688.7,1095.2 1689.43,1149.9 1690.15,1114.7 1690.87,1146.1 1691.6,1092.7 1692.32,1161.5 1693.05,1145 1693.77,1102.6 1694.49,1176.1 1695.22,1133.4 1695.94,1157.8 1696.66,1134.7 1697.39,1140.8 1698.11,1178.1 1698.84,1117.8 1699.56,1126.7 1700.28,1144.9 1701.01,1172.1 1701.73,1106.8 1702.45,1178 1703.18,1146.6 1703.9,1168.5 1704.62,1207.3 1705.35,1166.2 1706.07,1178.3 1706.8,1184.2 1707.52,1152 1708.24,1160.6 1708.97,1155 1709.69,1162.5 1710.41,1216.4 1711.14,1149.1 1711.86,1147.7 1712.59,1173.9 1713.31,1134.5 1714.03,1161 1714.76,1186 1715.48,1133.6 1716.2,1126.9 1716.93,1172.4 1717.65,1144.4 1718.38,1145.7 1719.1,1171.6 1719.82,1165.1 1720.55,1146.6 1721.27,1153 1721.99,1132 1722.72,1148.3 1723.44,1157.6 1724.16,1169.9 1724.89,1170.7 1725.61,1193.3 1726.34,1157.8 1727.06,1178.7 1727.78,1164.4 1728.51,1141.1 1729.23,1165.4 1729.95,1166 1730.68,1172.4 1731.4,1168.9 1732.13,1161.7 1732.85,1142.8 1733.57,1153.5 1734.3,1164.8 1735.02,1171.9 1735.74,1175.1 1736.47,1166.2 1737.19,1171.6 1737.92,1187.3 1738.64,1163.1 1739.36,1149.3 1740.09,1133.1 1740.81,1159.7 1741.53,1171.3 1742.26,1152.2 1742.98,1188.2 1743.7,1143.1 1744.43,1152.2 1745.15,1158.2 1745.88,1136.2 1746.6,1178.7 1747.32,1145.1 1748.05,1137.1 1748.77,1125.3 1749.49,1176.8 1750.22,1183.8 1750.94,1140 1751.67,1132.5 1752.39,1150.2 1753.11,1158.2 1753.84,1148.6 1754.56,1167.8 1755.28,1139 1756.01,1199.1 1756.73,1165.5 1757.46,1178.4 1758.18,1151.1 1758.9,1177.5 1759.63,1191.4 1760.35,1145.4 1761.07,1161.3 1761.8,1178.5 1762.52,1166.9 1763.24,1143.4 1763.97,1150.3 1764.69,1170.3 1765.42,1165.4 1766.14,1146.8 1766.86,1165.4 1767.59,1118.3 1768.31,1160.3 1769.03,1177.8 1769.76,1177.3 1770.48,1151 1771.21,1163.8 1771.93,1163.3 1772.65,1156.6 1773.38,1143.8 1774.1,1132.2 1774.82,1147 1775.55,1135.2 1776.27,1118.6 1776.99,1180.4 1777.72,1129.4 1778.44,1143.6 1779.17,1143.2 1779.89,1122.4 1780.61,1159.9 1781.34,1121.8 1782.06,1187 1782.78,1126.2 1783.51,1136.5 1784.23,1147.2 1784.96,1147 1785.68,1148.6 1786.4,1169.6 1787.13,1173.9 1787.85,1193.7 1788.57,1126.8 1789.3,1168.7 1790.02,1160.2 1790.75,1139.9 1791.47,1120 1792.19,1189.6 1792.92,1164.4 1793.64,1106.9 1794.36,1167.1 1795.09,1145.2 1795.81,1139.3 1796.53,1148.8 1797.26,1121.4 1797.98,1129 1798.71,1149.2 1799.43,1109.8 1800.15,1105.9 1800.88,1100.4 1801.6,1145.3 1802.32,1112.5 1803.05,1125.9 1803.77,1124.3 1804.5,1146 1805.22,1143 1805.94,1122.8 1806.67,1166.7 1807.39,1149.3 1808.11,1149.4 1808.84,1136.3 1809.56,1139.6 1810.29,1142.7 1811.01,1149.3 1811.73,1158.8 1812.46,1160.1 1813.18,1148 1813.9,1151.4 1814.63,1168.7 1815.35,1179.3 1816.07,1181.1 1816.8,1156.3 1817.52,1133.9 1818.25,1160.9 1818.97,1161.4 1819.69,1160 1820.42,1168.9 1821.14,1149.6 1821.86,1161.3 1822.59,1116.3 1823.31,1194.5 1824.04,1159.8 1824.76,1153.3 1825.48,1169.6 1826.21,1154.6 1826.93,1145.8 1827.65,1175.9 1828.38,1160.5 1829.1,1146.7 1829.83,1173 1830.55,1168.1 1831.27,1166.8 1832,1153.6 1832.72,1180.6 1833.44,1142.6 1834.17,1175.9 1834.89,1087 1835.61,1142.3 1836.34,1163.7 1837.06,1126.1 1837.79,1159.7 1838.51,1127.5 1839.23,1134.4 1839.96,1163 1840.68,1180.5 1841.4,1169 1842.13,1154.9 1842.85,1144.5 1843.58,1159.3 1844.3,1207 1845.02,1187.2 1845.75,1134.3 1846.47,1145.8 1847.19,1132.4 1847.92,1170 1848.64,1153.5 1849.36,1130.5 1850.09,1155.6 1850.81,1149.9 1851.54,1139.2 1852.26,1152.3 1852.98,1176.1 1853.71,1141.6 1854.43,1152.2 1855.15,1132.5 1855.88,1151.2 1856.6,1186.1 1857.33,1169.7 1858.05,1145.7 1858.77,1147.8 1859.5,1184 1860.22,1156.6 1860.94,1149.6 1861.67,1182 1862.39,1151.8 1863.12,1146 1863.84,1167.7 1864.56,1135.6 1865.29,1151.7 1866.01,1145.3 1866.73,1162.8 1867.46,1098 1868.18,1196.6 1868.9,1174 1869.63,1160.8 1870.35,1171.8 1871.08,1156.3 1871.8,1165.7 1872.52,1172.3 1873.25,1169.9 1873.97,1188.7 1874.69,1171.8 1875.42,1147.6 1876.14,1166 1876.87,1139.8 1877.59,1200.9 1878.31,1126.1 1879.04,1158.2 1879.76,1215 1880.48,1143.2 1881.21,1152.5 1881.93,1180.9 1882.66,1137.9 1883.38,1178.7 1884.1,1156 1884.83,1153.6 1885.55,1199.6 1886.27,1175.8 1887,1168 1887.72,1155.5 1888.44,1163.9 1889.17,1157.1 1889.89,1196.6 1890.62,1164.3 1891.34,1146.7 1892.06,1151 1892.79,1168.4 1893.51,1140 1894.23,1146.3 1894.96,1130.6 1895.68,1117.7 1896.41,1205.6 1897.13,1156.4 1897.85,1195.8 1898.58,1171.9 1899.3,1166.4 1900.02,1140.2 1900.75,1159.9 1901.47,1164.1 1902.2,1144.1 1902.92,1175.1 1903.64,1185.5 1904.37,1170.4 1905.09,1165.3 1905.81,1129.4 1906.54,1212.7 1907.26,1176.2 1907.98,1139.4 1908.71,1139.8 1909.43,1148.7 1910.16,1142.8 1910.88,1162.1 1911.6,1145.3 1912.33,1163.8 1913.05,1152.9 1913.77,1156.3 1914.5,1139.3 1915.22,1164.9 1915.95,1166.7 1916.67,1146.2 1917.39,1130.7 1918.12,1162.5 1918.84,1128 1919.56,1146.5 1920.29,1170.5 1921.01,1186.3 1921.73,1155.9 1922.46,1167.9 1923.18,1186.9 1923.91,1141.6 1924.63,1153.1 1925.35,1166.9 1926.08,1187.6 1926.8,1139.2 1927.52,1138.7 1928.25,1180.5 1928.97,1185.2 1929.7,1149.4 1930.42,1162.4 1931.14,1180.4 1931.87,1157 1932.59,1125.7 1933.31,1165.2 1934.04,1180 1934.76,1137.5 1935.49,1187 1936.21,1155 1936.93,1127.6 1937.66,1165.2 1938.38,1132.6 1939.1,1188.3 1939.83,1170.7 1940.55,1196.6 1941.27,1129.9 1942,1163.6 1942.72,1190.1 1943.45,1185.1 1944.17,1173.9 1944.89,1168.6 1945.62,1174.1 1946.34,1181.5 1947.06,1197.4 1947.79,1128.5 1948.51,1142.4 1949.24,1150.5 1949.96,1165.4 1950.68,1169.1 1951.41,1154.7 1952.13,1159.9 1952.85,1176.8 1953.58,1185.5 1954.3,1146.6 1955.03,1156.5 1955.75,1162.6 1956.47,1211.5 1957.2,1149.2 1957.92,1167.7 1958.64,1162.5 1959.37,1153.6 1960.09,1180.3 1960.81,1160 1961.54,1152.4 1962.26,1162.9 1962.99,1166.9 1963.71,1149.7 1964.43,1147.8 1965.16,1183.9 1965.88,1222 1966.6,1179.8 1967.33,1158.3 1968.05,1145.6 1968.78,1140.2 1969.5,1129.6 1970.22,1174.7 1970.95,1173.9 1971.67,1153.1 1972.39,1140.8 1973.12,1150.5 1973.84,1163.4 1974.57,1185.6 1975.29,1148.4 1976.01,1129.2 1976.74,1164.7 1977.46,1153.6 1978.18,1144.8 1978.91,1125.6 1979.63,1171.6 1980.35,1188.3 1981.08,1141.2 1981.8,1132.3 1982.53,1149.8 1983.25,1154.3 1983.97,1170.2 1984.7,1161.6 1985.42,1128.1 1986.14,1164.9 1986.87,1165.3 1987.59,1149.7 1988.32,1165.3 1989.04,1134.3 1989.76,1153.1 1990.49,1134.2 1991.21,1159.4 1991.93,1174.7 1992.66,1123.2 1993.38,1160.2 1994.1,1174.1 1994.83,1164.5 1995.55,1192 1996.28,1158.8 1997,1203.3 1997.72,1162 1998.45,1137.8 1999.17,1157.8 1999.89,1147.9 2000.62,1184.6 2001.34,1193.2 2002.07,1195 2002.79,1176.4 2003.51,1158.8 2004.24,1150.6 2004.96,1140.4 2005.68,1174.9 2006.41,1138.2 2007.13,1156.8 2007.86,1166 2008.58,1170.4 2009.3,1135.8 2010.03,1138.5 2010.75,1139.9 2011.47,1178.8 2012.2,1140.7 2012.92,1144.9 2013.64,1173.8 2014.37,1180.5 2015.09,1199.8 2015.82,1162 2016.54,1181 2017.26,1129.5 2017.99,1175.2 2018.71,1180 2019.43,1182.3 2020.16,1154.2 2020.88,1191.7 2021.61,1196 2022.33,1163.8 2023.05,1164.8 2023.78,1157.5 2024.5,1158.2 2025.22,1163.7 2025.95,1140 2026.67,1138.4 2027.4,1158.6 2028.12,1154 2028.84,1182.9 2029.57,1159.7 2030.29,1145.9 2031.01,1113 2031.74,1157.5 2032.46,1143.8 2033.18,1130.4 2033.91,1202.1 2034.63,1128.1 2035.36,1197.3 2036.08,1218 2036.8,1166.6 2037.53,1156.2 2038.25,1178.1 2038.97,1147.9 2039.7,1168.6 2040.42,1180.1 2041.15,1141.4 2041.87,1195.9 2042.59,1166.5 2043.32,1170.9 2044.04,1191.6 2044.76,1139 2045.49,1141.7 2046.21,1171.1 2046.94,1172.8 2047.66,1160.7 2048.38,1163.2 2049.11,1160.6 2049.83,1147.3 2050.55,1140.8 2051.28,1151.4 2052,1167.7 2052.72,1173.9 2053.45,1141.8 2054.17,1200 2054.9,1212.2 2055.62,1169.4 2056.34,1150.3 2057.07,1161.9 2057.79,1181.1 2058.51,1163.5 2059.24,1203.2 2059.96,1160 2060.69,1184.3 2061.41,1117 2062.13,1210.6 2062.86,1173.8 2063.58,1175.2 2064.3,1149.8 2065.03,1160.9 2065.75,1141.1 2066.47,1219.3 2067.2,1167 2067.92,1162.2 2068.65,1166.6 2069.37,1174 2070.09,1177.3 2070.82,1133.1 2071.54,1191.8 2072.26,1167.6 2072.99,1165.2 2073.71,1202.5 2074.44,1171.8 2075.16,1151.7 2075.88,1150.3 2076.61,1182.1 2077.33,1167.7 2078.05,1169.3 2078.78,1142.6 2079.5,1169.9 2080.23,1154.1 2080.95,1151.6 2081.67,1192.5 2082.4,1172.4 2083.12,1161.4 2083.84,1186.7 2084.57,1204.5 2085.29,1138.5 2086.01,1185.8 2086.74,1172 2087.46,1165.4 2088.19,1195.2 2088.91,1184 2089.63,1158.5 2090.36,1192.4 2091.08,1163.5 2091.8,1166.8 2092.53,1142.5 2093.25,1167.9 2093.98,1179.2 2094.7,1161 2095.42,1167.8 2096.15,1119.6 2096.87,1164.4 2097.59,1155.5 2098.32,1201.6 2099.04,1154 2099.77,1122.7 2100.49,1143.3 2101.21,1162.5 2101.94,1144.7 2102.66,1146 2103.38,1158.1 2104.11,1164 2104.83,1162.7 2105.55,1167.3 2106.28,1189.6 2107,1221.1 2107.73,1191.7 2108.45,1181.3 2109.17,1155.2 2109.9,1169.9 2110.62,1148.3 2111.34,1167.6 2112.07,1147.7 2112.79,1189.9 2113.52,1210.6 2114.24,1187.7 2114.96,1221.6 2115.69,1147.5 2116.41,1186.2 2117.13,1166.4 2117.86,1172.1 2118.58,1148.6 2119.31,1167.6 2120.03,1166.8 2120.75,1155.6 2121.48,1191.7 2122.2,1184.1 2122.92,1192.9 2123.65,1159.1 2124.37,1156.7 2125.09,1147.2 2125.82,1185.8 2126.54,1188.7 2127.27,1168.6 2127.99,1155.8 2128.71,1171.1 2129.44,1179.1 2130.16,1180 2130.88,1164.6 2131.61,1192 2132.33,1195.6 2133.06,1152.9 2133.78,1176 2134.5,1171.3 2135.23,1145.6 2135.95,1159.2 2136.67,1175.1 2137.4,1193.9 2138.12,1156.6 2138.84,1162.8 2139.57,1166 2140.29,1162.1 2141.02,1143.2 2141.74,1187 2142.46,1165.9 2143.19,1179.3 2143.91,1184 2144.63,1162.1 2145.36,1152.1 2146.08,1157.3 2146.81,1124.8 2147.53,1154.9 2148.25,1164.7 2148.98,1143.9 2149.7,1162 2150.42,1159.3 2151.15,1175.5 2151.87,1180.6 2152.6,1207 2153.32,1194.8 2154.04,1184.8 2154.77,1171.3 2155.49,1172.7 2156.21,1178.9 2156.94,1167.3 2157.66,1172.5 2158.38,1155.8 2159.11,1179.4 2159.83,1155 2160.56,1163.1 2161.28,1161.8 2162,1223.1 2162.73,1174.6 2163.45,1191.8 2164.17,1149.1 2164.9,1183.9 2165.62,1166.9 2166.35,1191.1 2167.07,1165.2 2167.79,1151.3 2168.52,1187.9 2169.24,1173.6 2169.96,1148.3 2170.69,1170.9 2171.41,1155.2 2172.14,1186.8 2172.86,1174.6 2173.58,1180.2 2174.31,1155.3 2175.03,1199.9 2175.75,1162.4 2176.48,1179.3 2177.2,1168.8 2177.92,1174.9 2178.65,1150.6 2179.37,1175 2180.1,1181.4 2180.82,1149.8 2181.54,1194.3 2182.27,1155.1 2182.99,1163.2 2183.71,1161.9 2184.44,1197 2185.16,1164.1 2185.89,1165.8 2186.61,1180.5 2187.33,1176.9 2188.06,1196.9 2188.78,1166.1 2189.5,1162.7 2190.23,1159.3 2190.95,1159.3 2191.68,1188.4 2192.4,1184.3 2193.12,1167.8 2193.85,1171.6 2194.57,1133.1 2195.29,1190.9 2196.02,1183.4 2196.74,1135 2197.46,1163.9 2198.19,1172.6 2198.91,1203.3 2199.64,1179.7 2200.36,1199.6 2201.08,1206.3 2201.81,1189.3 2202.53,1157.1 2203.25,1150.1 2203.98,1169.4 2204.7,1190.5 2205.43,1183.7 2206.15,1150.9 2206.87,1189.7 2207.6,1158.5 2208.32,1168 2209.04,1195.6 2209.77,1177.9 2210.49,1165.5 2211.21,1161.2 2211.94,1176.9 2212.66,1181.1 2213.39,1172.8 2214.11,1161.2 2214.83,1185.1 2215.56,1192.7 2216.28,1154.9 2217,1188.8 2217.73,1164.5 2218.45,1171.2 2219.18,1195.3 2219.9,1153.2 2220.62,1173.7 2221.35,1210.2 2222.07,1205.5 2222.79,1165.8 2223.52,1156.3 2224.24,1201.9 2224.97,1181.4 2225.69,1182.2 2226.41,1148 2227.14,1178.8 2227.86,1148.2 2228.58,1171.7 2229.31,1213.7 2230.03,1201.9 2230.75,1208.7 2231.48,1178.1 2232.2,1184.8 2232.93,1169.8 2233.65,1217.6 2234.37,1167.5 2235.1,1150.8 2235.82,1168.5 2236.54,1198.5 2237.27,1167.4 2237.99,1181.2 2238.72,1150.6 2239.44,1164.9 2240.16,1152.6 2240.89,1156 2241.61,1172.2 2242.33,1188.6 2243.06,1215.6 2243.78,1188.3 2244.51,1156.7 2245.23,1156.4 2245.95,1148.5 2246.68,1174.7 2247.4,1158.7 2248.12,1172.6 2248.85,1155.7 2249.57,1208.4 2250.29,1171.3 2251.02,1192 2251.74,1171.7 2252.47,1222.9 2253.19,1150.8 2253.91,1188.6 2254.64,1206 2255.36,1177.9 2256.08,1198.1 2256.81,1178.1 2257.53,1202 2258.26,1178.9 2258.98,1214.9 2259.7,1150.5 2260.43,1195.6 2261.15,1170.6 2261.87,1172.1 2262.6,1191.8 2263.32,1168.3 2264.05,1167.6 2264.77,1192 2265.49,1159.2 2266.22,1175.4 2266.94,1201.2 2267.66,1164.7 2268.39,1204.9 2269.11,1159.9 2269.83,1185.2 2270.56,1181.9 2271.28,1153.7 2272.01,1195.8 2272.73,1153.2 2273.45,1208.1 2274.18,1210.9 2274.9,1167.8 2275.62,1181.4 2276.35,1176.3 2277.07,1152.7 2277.8,1163.9 2278.52,1178.5 2279.24,1179.7 2279.97,1205.1 2280.69,1171 2281.41,1169.5 2282.14,1193.8 2282.86,1195.9 2283.58,1175.7 2284.31,1184.7 2285.03,1169.4 2285.76,1177.3 2286.48,1140.6 2287.2,1147.3 2287.93,1197.9 2288.65,1168.4 2289.37,1159.9 2290.1,1190.9 2290.82,1222.6 2291.55,1201.8 2292.27,1189.7 2292.99,1242.5 2293.72,1218.5 2294.44,1216.9 2295.16,1186.9 2295.89,1175.6 2296.61,1184.6 2297.34,1193.3 2298.06,1179.5 2298.78,1172.8 2299.51,1170.9 2300.23,1154.7 2300.95,1177 2301.68,1187.8 2302.4,1157 2303.12,1165.3 2303.85,1201.3 2304.57,1166.1 2305.3,1189 2306.02,1160.5 2306.74,1144.6 2307.47,1188.3 2308.19,1193.3 2308.91,1185.4 2309.64,1179.7 2310.36,1209.9 2311.09,1175 2311.81,1165.7 2312.53,1185.6 2313.26,1201.7 2313.98,1187.4 2314.7,1201.4 2315.43,1211.7 2316.15,1166.1 2316.88,1178.3 2317.6,1175.9 2318.32,1192.5 2319.05,1150.8 2319.77,1200.1 2320.49,1155 2321.22,1188.4 2321.94,1174.7 2322.66,1172.4 2323.39,1191.9 2324.11,1157.9 2324.84,1192.6 2325.56,1174.7 2326.28,1155.5 2327.01,1200.7 2327.73,1158.2 2328.45,1193.1 2329.18,1173.5 2329.9,1174.1 2330.63,1208.5 2331.35,1187 2332.07,1177 2332.8,1226.6 2333.52,1172.7 2334.24,1212.9 2334.97,1169.9 2335.69,1192 2336.42,1170.9 2337.14,1195.4 2337.86,1165.3 2338.59,1179.8 2339.31,1195.7 2340.03,1157.5 2340.76,1177.9 2341.48,1189.5 2342.2,1172.3 2342.93,1174.9 2343.65,1195 2344.38,1198.6 2345.1,1152.4 2345.82,1164.9 2346.55,1132.9 2347.27,1180.1 2347.99,1193 2348.72,1164.8 2349.44,1158.5 2350.17,1189.4 2350.89,1171.1 2351.61,1221.7 2352.34,1210.1 2353.06,1146.6 2353.78,1194.4 2354.51,1194.1 2355.23,1195.2 2355.95,1180.5 2356.68,1154.2 2357.4,1183.2 2358.13,1171.3 2358.85,1216.7 2359.57,1192.8 2360.3,1206.5 2361.02,1162 2361.74,1181.4 2362.47,1177.1 2363.19,1164.8 2363.92,1172.6 2364.64,1152.4 2365.36,1183.1 2366.09,1164 2366.81,1183 2367.53,1188 2368.26,1175.7 2368.98,1167.2 2369.71,1196.4 2370.43,1196 2371.15,1171.3 2371.88,1200.9" fill="none" stroke="#000" stroke-width="4" stroke-linejoin="round" stroke-linecap="round" shape-rendering="crispEdges"/>
<path d="M201.5,861.1 202.22,824.5 202.95,814.6 203.67,766.6 204.39,803.9 205.12,801.3 205.84,807.1 206.57,793.4 207.29,806.6 208.01,795.5 208.74,774.7 209.46,829.3 210.18,860 210.91,850 211.63,804.7 212.36,792.9 213.08,788.8 213.8,764.1 214.53,826.9 215.25,773.3 215.97,770.5 216.7,793.2 217.42,837.3 218.15,803 218.87,771.3 219.59,778 220.32,811.1 221.04,789.7 221.76,774.3 222.49,786.5 223.21,811.2 223.93,854 224.66,759.8 225.38,773.9 226.11,768.8 226.83,729.3 227.55,764.4 228.28,761.2 229,815.3 229.72,781.1 230.45,744.6 231.17,800.4 231.9,773.9 232.62,740 233.34,766.9 234.07,766.5 234.79,759 235.51,780.2 236.24,724.8 236.96,771.8 237.69,804.8 238.41,799.9 239.13,806.2 239.86,805.9 240.58,815.2 241.3,747.8 242.03,796.7 242.75,728.7 243.47,758.3 244.2,726.3 244.92,799.8 245.65,806.9 246.37,765.7 247.09,817.5 247.82,753 248.54,772.7 249.26,772.1 249.99,741.9 250.71,778.6 251.44,818.3 252.16,741 252.88,789.2 253.61,760.7 254.33,811.4 255.05,776.2 255.78,780.8 256.5,779.3 257.22,768.1 257.95,727.3 258.67,797.6 259.4,726.7 260.12,765.4 260.84,774.9 261.57,737.7 262.29,761.1 263.01,788 263.74,755.4 264.46,734.1 265.19,690.1 265.91,731.3 266.63,740.1 267.36,741.7 268.08,730.7 268.8,763.6 269.53,739.4 270.25,750.3 270.98,770.9 271.7,731.8 272.42,744.9 273.15,820 273.87,775 274.59,720.2 275.32,749 276.04,765.8 276.76,783.5 277.49,754.1 278.21,737.1 278.94,732 279.66,766.6 280.38,757.4 281.11,736.3 281.83,743.8 282.55,738.1 283.28,767.3 284,731 284.73,760.3 285.45,769.8 286.17,759.7 286.9,726.4 287.62,782.2 288.34,729.5 289.07,757 289.79,727.2 290.52,703.1 291.24,750.7 291.96,752.1 292.69,742.3 293.41,751.2 294.13,728 294.86,725.6 295.58,738.9 296.3,794 297.03,764.3 297.75,729.6 298.48,756.9 299.2,730.1 299.92,730.3 300.65,764.1 301.37,728.1 302.09,700.2 302.82,718.4 303.54,742.2 304.27,743 304.99,772.7 305.71,721.8 306.44,758.4 307.16,749.9 307.88,734.6 308.61,760.3 309.33,750.8 310.06,716.6 310.78,765.8 311.5,707.4 312.23,738 312.95,736.2 313.67,747.3 314.4,718.2 315.12,734.5 315.84,731.6 316.57,761.6 317.29,715.4 318.02,736.2 318.74,727.7 319.46,702.6 320.19,805.4 320.91,731.5 321.63,697.3 322.36,770.5 323.08,706.7 323.81,742.1 324.53,755.1 325.25,716.1 325.98,721 326.7,718.1 327.42,727.7 328.15,691.6 328.87,700.7 329.59,726.7 330.32,757.7 331.04,746.5 331.77,775.8 332.49,747.7 333.21,716.5 333.94,725.5 334.66,679.5 335.38,704.9 336.11,703.2 336.83,734.7 337.56,744.6 338.28,713.5 339,712.5 339.73,689.3 340.45,723.1 341.17,732.6 341.9,737.6 342.62,706.6 343.35,778.6 344.07,757 344.79,722.3 345.52,711.7 346.24,716.3 346.96,727.9 347.69,723.1 348.41,736.3 349.13,743.7 349.86,759.5 350.58,753.3 351.31,719.6 352.03,732.4 352.75,712.4 353.48,773 354.2,772.6 354.92,709.9 355.65,774.2 356.37,712 357.1,726.9 357.82,749.2 358.54,720.3 359.27,729.9 359.99,713.3 360.71,707.4 361.44,714.6 362.16,702.7 362.89,761.9 363.61,713.8 364.33,763.8 365.06,652.8 365.78,717.5 366.5,732 367.23,709.7 367.95,746.1 368.67,733.8 369.4,709.9 370.12,728.1 370.85,772 371.57,723 372.29,724.2 373.02,705.5 373.74,719.6 374.46,685 375.19,711.1 375.91,781.8 376.64,744.3 377.36,732.8 378.08,745.2 378.81,766 379.53,731.3 380.25,770.9 380.98,743.9 381.7,719.5 382.43,761.2 383.15,658.2 383.87,701.1 384.6,721.8 385.32,692.7 386.04,710.8 386.77,699.1 387.49,698.6 388.21,786.8 388.94,731 389.66,712.8 390.39,749.3 391.11,708.2 391.83,737.6 392.56,723.2 393.28,757.4 394,679.5 394.73,734 395.45,716.7 396.18,685.5 396.9,741.8 397.62,692.2 398.35,756.5 399.07,726.7 399.79,731.5 400.52,714.9 401.24,737 401.96,667.8 402.69,714.5 403.41,697.3 404.14,719.9 404.86,711.1 405.58,728.7 406.31,691.9 407.03,761.4 407.75,774.1 408.48,706.8 409.2,711.3 409.93,719.3 410.65,745.5 411.37,762.4 412.1,682.4 412.82,696.5 413.54,685.7 414.27,684.4 414.99,671.6 415.72,720.6 416.44,683 417.16,751.1 417.89,774.6 418.61,685.9 419.33,685.8 420.06,695.7 420.78,748 421.5,689.9 422.23,674.4 422.95,708.9 423.68,720.1 424.4,694.2 425.12,753.4 425.85,716.3 426.57,721.9 427.29,689.1 428.02,708.6 428.74,705.8 429.47,654.9 430.19,717.1 430.91,666.2 431.64,708.5 432.36,673.8 433.08,763.3 433.81,717.7 434.53,732.1 435.26,733.5 435.98,677 436.7,653.9 437.43,700.7 438.15,630 438.87,710.9 439.6,729.4 440.32,733.4 441.04,672.3 441.77,715.8 442.49,760.8 443.22,694.2 443.94,659.1 444.66,702.2 445.39,696.5 446.11,718.8 446.83,686 447.56,709.8 448.28,654 449.01,730.1 449.73,749.7 450.45,741.8 451.18,670.5 451.9,715.3 452.62,641.8 453.35,714.1 454.07,704.8 454.8,682.3 455.52,715.3 456.24,709.7 456.97,731.1 457.69,709.1 458.41,711.8 459.14,658.6 459.86,677.3 460.58,693.5 461.31,712.7 462.03,704.3 462.76,744.5 463.48,683 464.2,697.8 464.93,710 465.65,697.1 466.37,715.4 467.1,687.7 467.82,738.6 468.55,691.5 469.27,727.2 469.99,693.9 470.72,730.7 471.44,653.1 472.16,693.1 472.89,661.7 473.61,668 474.33,680.8 475.06,619.5 475.78,609.4 476.51,612.8 477.23,639.6 477.95,602.3 478.68,651.8 479.4,631.2 480.12,642.9 480.85,668.6 481.57,693.9 482.3,674.3 483.02,681.3 483.74,694.8 484.47,691.2 485.19,634.9 485.91,689.7 486.64,703 487.36,730.7 488.09,756.5 488.81,719.8 489.53,704.2 490.26,679.2 490.98,704.9 491.7,723.5 492.43,736.7 493.15,681.7 493.87,709.3 494.6,724.9 495.32,753 496.05,709.9 496.77,690.1 497.49,686.6 498.22,694.6 498.94,687.5 499.66,725.4 500.39,731.9 501.11,722.7 501.84,735.2 502.56,692.3 503.28,713.4 504.01,693.9 504.73,704.3 505.45,736 506.18,702.4 506.9,658.3 507.63,697 508.35,685.9 509.07,666.8 509.8,684 510.52,728.8 511.24,748.1 511.97,691.2 512.69,729.8 513.41,734.5 514.14,675 514.86,701.8 515.59,701.7 516.31,707.3 517.03,664.4 517.76,694.3 518.48,731 519.2,736.5 519.93,751.8 520.65,694.4 521.38,752.7 522.1,720.3 522.82,669.8 523.55,722.8 524.27,693.9 524.99,716.2 525.72,699.8 526.44,734.7 527.17,709 527.89,695.3 528.61,728 529.34,708.9 530.06,692.1 530.78,736.3 531.51,692.1 532.23,686.6 532.95,688.9 533.68,666.6 534.4,688.5 535.13,751.7 535.85,679.9 536.57,701.9 537.3,675 538.02,686.9 538.74,742.3 539.47,725.6 540.19,686.8 540.92,701.6 541.64,681.5 542.36,682.5 543.09,679.3 543.81,679.7 544.53,709.9 545.26,717.2 545.98,714.2 546.7,697 547.43,668.4 548.15,699.4 548.88,678.7 549.6,724.6 550.32,715.8 551.05,720.8 551.77,692.3 552.49,657.1 553.22,726.2 553.94,733.3 554.67,664.7 555.39,703.9 556.11,732.1 556.84,674.2 557.56,747.4 558.28,691.4 559.01,673.9 559.73,736.5 560.46,707.4 561.18,683.7 561.9,723 562.63,652.3 563.35,747.9 564.07,679.4 564.8,706.6 565.52,689.3 566.24,710.5 566.97,722.5 567.69,678.8 568.42,719.6 569.14,691.3 569.86,681.8 570.59,692.8 571.31,674 572.03,678.9 572.76,723.4 573.48,694.2 574.21,728.4 574.93,709.2 575.65,672.9 576.38,651.9 577.1,680.8 577.82,704.3 578.55,697.4 579.27,677.1 580,724.1 580.72,654.9 581.44,666.5 582.17,700.1 582.89,755.5 583.61,707.6 584.34,672.2 585.06,712.2 585.78,714.5 586.51,721.3 587.23,686.1 587.96,676.7 588.68,699 589.4,706.8 590.13,738.5 590.85,751.7 591.57,677.8 592.3,682.7 593.02,693.7 593.75,689.1 594.47,708.1 595.19,708 595.92,701.8 596.64,730.9 597.36,690.8 598.09,669.3 598.81,657 599.54,669.7 600.26,635 600.98,649 601.71,711.9 602.43,698.9 603.15,683.7 603.88,672.4 604.6,655.7 605.32,671.5 606.05,743.2 606.77,640.3 607.5,697.1 608.22,713.2 608.94,696.8 609.67,685.4 610.39,713.6 611.11,666.3 611.84,707.6 612.56,731.1 613.29,667.5 614.01,672.8 614.73,696 615.46,718.8 616.18,728.1 616.9,710.3 617.63,675.9 618.35,665.1 619.07,772 619.8,702.4 620.52,665.2 621.25,693.1 621.97,700.4 622.69,719.4 623.42,667.5 624.14,706.1 624.86,663 625.59,680.8 626.31,689 627.04,731.6 627.76,763.3 628.48,697.5 629.21,703.9 629.93,717.6 630.65,657.7 631.38,710.9 632.1,660.4 632.83,733.9 633.55,728.9 634.27,703.4 635,670.5 635.72,734.6 636.44,696.7 637.17,692.6 637.89,705.1 638.61,648.4 639.34,700.9 640.06,716.1 640.79,698.3 641.51,693 642.23,666.1 642.96,706.2 643.68,694.2 644.4,689 645.13,675.2 645.85,711.6 646.58,722 647.3,698.9 648.02,712.4 648.75,723.9 649.47,730.8 650.19,694.1 650.92,682.9 651.64,677.9 652.37,688.2 653.09,702.6 653.81,712.9 654.54,677.3 655.26,691.5 655.98,663.5 656.71,721.3 657.43,677.8 658.15,696.7 658.88,669.8 659.6,679.8 660.33,670.4 661.05,732.6 661.77,628.7 662.5,682.6 663.22,663.8 663.94,671.8 664.67,701.6 665.39,731 666.12,651.8 666.84,664.1 667.56,681.8 668.29,670.8 669.01,646 669.73,686.3 670.46,705.8 671.18,647.7 671.91,691.2 672.63,711.3 673.35,711.7 674.08,675.2 674.8,747.1 675.52,700 676.25,665.5 676.97,711.3 677.69,657.9 678.42,708.8 679.14,654.3 679.87,705.8 680.59,670.4 681.31,714.8 682.04,704.2 682.76,696.2 683.48,685.7 684.21,713.2 684.93,640.7 685.66,695.5 686.38,694.9 687.1,698.8 687.83,705.8 688.55,756.1 689.27,686.6 690,704.9 690.72,687.3 691.44,725.4 692.17,634.6 692.89,728.6 693.62,666.5 694.34,628.5 695.06,656.9 695.79,678.5 696.51,687.8 697.23,681.4 697.96,704.4 698.68,681.5 699.41,680.7 700.13,754 700.85,695.2 701.58,709.2 702.3,671.9 703.02,636.9 703.75,649.7 704.47,726.6 705.2,667.1 705.92,665.6 706.64,661.8 707.37,699.7 708.09,667.2 708.81,660.4 709.54,645.1 710.26,678.5 710.98,707.8 711.71,677.4 712.43,704.5 713.16,685.5 713.88,684.6 714.6,685.4 715.33,681.4 716.05,707.9 716.77,693.4 717.5,666.5 718.22,683.6 718.95,678.3 719.67,693 720.39,684.8 721.12,691 721.84,644.6 722.56,689.9 723.29,714.7 724.01,647.4 724.74,722.2 725.46,687.3 726.18,674.4 726.91,636.3 727.63,708.2 728.35,656 729.08,617.4 729.8,693.5 730.52,654.5 731.25,655.3 731.97,651.3 732.7,676 733.42,694.2 734.14,689.2 734.87,689.2 735.59,670.1 736.31,682 737.04,661.8 737.76,731.2 738.49,683.2 739.21,631.5 739.93,652.4 740.66,720.3 741.38,645.2 742.1,667.2 742.83,688.2 743.55,651.4 744.28,705.7 745,721.8 745.72,657.6 746.45,707.1 747.17,655.9 747.89,653.3 748.62,683.4 749.34,683.1 750.06,662.6 750.79,699 751.51,641.9 752.24,656.3 752.96,651.1 753.68,696.6 754.41,697.7 755.13,694.1 755.85,645.8 756.58,679.9 757.3,688.4 758.03,638.1 758.75,656.8 759.47,693.3 760.2,694.7 760.92,682.8 761.64,690.4 762.37,684.6 763.09,679.9 763.81,673.4 764.54,655.4 765.26,670.1 765.99,666.3 766.71,736.9 767.43,682.6 768.16,675.4 768.88,670.2 769.6,672.9 770.33,669.2 771.05,689.9 771.78,735.5 772.5,696.8 773.22,659.1 773.95,684.6 774.67,698.4 775.39,648.1 776.12,679.6 776.84,681.7 777.57,667.3 778.29,663.7 779.01,631.5 779.74,705.2 780.46,653.1 781.18,645.8 781.91,692.2 782.63,631.9 783.35,700.1 784.08,686.1 784.8,690.4 785.53,670.8 786.25,646.1 786.97,630.3 787.7,712.7 788.42,663.4 789.14,662.3 789.87,715.8 790.59,659.5 791.32,668.7 792.04,668.7 792.76,670.9 793.49,649.8 794.21,661 794.93,707.6 795.66,693.9 796.38,610.8 797.11,628.1 797.83,682.5 798.55,671.1 799.28,664.9 800,700.9 800.72,632 801.45,704.9 802.17,676.9 802.89,687.7 803.62,680 804.34,695.4 805.07,667.4 805.79,610 806.51,693.5 807.24,677.6 807.96,643.8 808.68,708.1 809.41,704.4 810.13,710.3 810.86,674.8 811.58,681.7 812.3,663.7 813.03,649.8 813.75,674.1 814.47,676.9 815.2,656.8 815.92,719.7 816.65,634.5 817.37,653 818.09,656.3 818.82,705.3 819.54,665.7 820.26,664 820.99,650.9 821.71,653.6 822.43,641 823.16,697.4 823.88,686.8 824.61,696.5 825.33,655.3 826.05,735.7 826.78,647.7 827.5,622.7 828.22,663.3 828.95,673.4 829.67,689.2 830.4,645.9 831.12,684.5 831.84,713.2 832.57,649 833.29,651.3 834.01,628.8 834.74,674 835.46,689.6 836.18,686.9 836.91,688.2 837.63,702.7 838.36,669 839.08,689.7 839.8,642.6 840.53,645.6 841.25,669.2 841.97,643.4 842.7,675.8 843.42,695.1 844.15,668.8 844.87,639.9 845.59,637.6 846.32,686.5 847.04,630.6 847.76,646.3 848.49,632.7 849.21,632.3 849.94,647.1 850.66,599.6 851.38,570.4 852.11,606.9 852.83,564.6 853.55,550.8 854.28,518.6 855,508.3 855.72,497.5 856.45,487.9 857.17,464.8 857.9,470.5 858.62,493.8 859.34,510.4 860.07,536.6 860.79,540.4 861.51,533.6 862.24,596.6 862.96,619.7 863.69,630.4 864.41,665.2 865.13,655.1 865.86,632.5 866.58,670.6 867.3,648.1 868.03,684.6 868.75,661.4 869.48,668.7 870.2,664.5 870.92,661.4 871.65,627.1 872.37,663.5 873.09,611.1 873.82,676.2 874.54,689.4 875.26,717 875.99,674.7 876.71,649.3 877.44,629.8 878.16,716.1 878.88,634.2 879.61,689.8 880.33,614.7 881.05,666.3 881.78,685.2 882.5,676.2 883.23,667.2 883.95,649.5 884.67,647.8 885.4,694.3 886.12,679.9 886.84,665.2 887.57,674.3 888.29,648.1 889.02,695.3 889.74,701.4 890.46,651.7 891.19,672.1 891.91,696.2 892.63,655.1 893.36,721.5 894.08,708.2 894.8,663.5 895.53,694.8 896.25,712.2 896.98,641.8 897.7,685.8 898.42,666.8 899.15,665.2 899.87,688.2 900.59,659.4 901.32,638.5 902.04,638.1 902.77,669.9 903.49,686.3 904.21,669.8 904.94,667 905.66,669.7 906.38,703.1 907.11,745 907.83,653.6 908.55,664 909.28,701 910,657.4 910.73,661.7 911.45,670 912.17,646.6 912.9,693.4 913.62,621.2 914.34,707.3 915.07,660.8 915.79,642.3 916.52,677.8 917.24,632.1 917.96,684.3 918.69,690.2 919.41,657.7 920.13,662 920.86,694.7 921.58,655.6 922.31,671.3 923.03,679.5 923.75,710.1 924.48,659.4 925.2,671.6 925.92,699.3 926.65,613.3 927.37,664.7 928.09,627.8 928.82,629.4 929.54,720 930.27,676.1 930.99,708.1 931.71,665.3 932.44,684.3 933.16,661.1 933.88,658.5 934.61,669.1 935.33,674 936.06,709.2 936.78,666.3 937.5,680.3 938.23,665 938.95,674.3 939.67,641.3 940.4,698.1 941.12,659 941.85,671.7 942.57,665.9 943.29,695.3 944.02,683.7 944.74,671 945.46,675 946.19,679.2 946.91,689.6 947.63,683.3 948.36,702.8 949.08,711.1 949.81,685.9 950.53,641 951.25,714.3 951.98,724.3 952.7,662.4 953.42,661.3 954.15,624.6 954.87,689.9 955.6,648 956.32,716.1 957.04,615.2 957.77,672.2 958.49,687.2 959.21,661.4 959.94,652.6 960.66,676.6 961.39,658.6 962.11,662.7 962.83,669.4 963.56,657.9 964.28,665.2 965,689.8 965.73,661.5 966.45,674.3 967.17,653.3 967.9,692.8 968.62,641.5 969.35,693.8 970.07,610.1 970.79,649.7 971.52,634.6 972.24,695.1 972.96,676.5 973.69,640.7 974.41,657 975.14,702.9 975.86,668.2 976.58,683.3 977.31,635.9 978.03,635.9 978.75,683.3 979.48,726.2 980.2,657 980.92,683.4 981.65,647.9 982.37,699.6 983.1,658.5 983.82,658.9 984.54,626.6 985.27,659.1 985.99,672.7 986.71,702.1 987.44,642 988.16,692 988.89,660.2 989.61,661.3 990.33,646.6 991.06,629.8 991.78,640.4 992.5,707 993.23,640.6 993.95,657 994.68,693.6 995.4,619.7 996.12,676.8 996.85,654.5 997.57,670 998.29,686.5 999.02,661.7 999.74,660.5 1000.46,682.3 1001.19,679.8 1001.91,648.2 1002.64,659.5 1003.36,633.8 1004.08,694.5 1004.81,636 1005.53,666.5 1006.25,704.3 1006.98,680.7 1007.7,654.2 1008.43,644 1009.15,645.6 1009.87,680.9 1010.6,666 1011.32,656.8 1012.04,719.4 1012.77,636.6 1013.49,642.8 1014.22,643.9 1014.94,655.5 1015.66,655.8 1016.39,640.4 1017.11,661.1 1017.83,653.1 1018.56,630.2 1019.28,581.1 1020,643.3 1020.73,598.9 1021.45,594.7 1022.18,590.6 1022.9,555.8 1023.62,541.3 1024.35,524.2 1025.07,484.3 1025.79,450.1 1026.52,389.4 1027.24,345 1027.97,284.3 1028.69,246.6 1029.41,219.7 1030.14,199.9 1030.86,196.5 1031.58,240.6 1032.31,289 1033.03,352.2 1033.76,389.5 1034.48,433.7 1035.2,468.2 1035.93,541.9 1036.65,534.7 1037.37,553.8 1038.1,587.1 1038.82,570.4 1039.54,638.1 1040.27,627.2 1040.99,640.8 1041.72,614.3 1042.44,628 1043.16,662.2 1043.89,666.2 1044.61,713.7 1045.33,675.4 1046.06,609.8 1046.78,589.4 1047.51,645.8 1048.23,681.5 1048.95,654.1 1049.68,668.8 1050.4,650.9 1051.12,673.5 1051.85,695.1 1052.57,646.7 1053.29,616 1054.02,638.6 1054.74,699.9 1055.47,667.5 1056.19,656.1 1056.91,641.8 1057.64,689 1058.36,670.6 1059.08,661.5 1059.81,652.4 1060.53,661.1 1061.26,657.8 1061.98,679 1062.7,696.4 1063.43,622.4 1064.15,633.7 1064.87,663.6 1065.6,667.8 1066.32,632 1067.05,652.6 1067.77,657.5 1068.49,656.7 1069.22,656.4 1069.94,664.8 1070.66,688.4 1071.39,685 1072.11,681.5 1072.83,673.7 1073.56,651.4 1074.28,656.6 1075.01,684.3 1075.73,670.1 1076.45,687.1 1077.18,674 1077.9,669 1078.62,678.4 1079.35,633.9 1080.07,664.3 1080.8,654.9 1081.52,688.6 1082.24,653.2 1082.97,673.6 1083.69,616 1084.41,679.6 1085.14,685.6 1085.86,663.5 1086.59,670.5 1087.31,672.3 1088.03,687 1088.76,660.9 1089.48,669 1090.2,658.7 1090.93,647 1091.65,672.3 1092.37,678.4 1093.1,650.3 1093.82,706.7 1094.55,651.7 1095.27,686.3 1095.99,677.2 1096.72,630.6 1097.44,667.6 1098.16,633.5 1098.89,665.8 1099.61,684.6 1100.34,713.5 1101.06,687.3 1101.78,634.6 1102.51,660.5 1103.23,705.1 1103.95,672.5 1104.68,711.6 1105.4,652.3 1106.13,656 1106.85,638.5 1107.57,659.8 1108.3,699.1 1109.02,647.8 1109.74,688.7 1110.47,679.4 1111.19,687.6 1111.91,662.6 1112.64,668.8 1113.36,720.8 1114.09,640.9 1114.81,686.9 1115.53,705.7 1116.26,612 1116.98,709 1117.7,610.8 1118.43,661.6 1119.15,642.5 1119.88,659.1 1120.6,665.9 1121.32,679.9 1122.05,649.4 1122.77,689.5 1123.49,633.5 1124.22,691.7 1124.94,662.6 1125.66,629 1126.39,628.9 1127.11,733.6 1127.84,646 1128.56,670.5 1129.28,700.1 1130.01,686.9 1130.73,638.4 1131.45,617.1 1132.18,661.1 1132.9,636.2 1133.63,663.7 1134.35,652.4 1135.07,730.6 1135.8,629.6 1136.52,674.9 1137.24,712.9 1137.97,658.4 1138.69,650.1 1139.42,708.4 1140.14,620.6 1140.86,612 1141.59,640.2 1142.31,676.7 1143.03,686 1143.76,664.4 1144.48,720.8 1145.2,662.8 1145.93,667.3 1146.65,660.6 1147.38,697.5 1148.1,667.8 1148.82,658.9 1149.55,709.1 1150.27,699.4 1150.99,692.5 1151.72,639.9 1152.44,644.3 1153.17,662.7 1153.89,662.4 1154.61,658.7 1155.34,663.3 1156.06,684.2 1156.78,646 1157.51,674.3 1158.23,659.7 1158.96,657.9 1159.68,662.3 1160.4,686.8 1161.13,675.5 1161.85,651.4 1162.57,676.9 1163.3,672.2 1164.02,679.2 1164.74,663.3 1165.47,693.9 1166.19,678.7 1166.92,644.1 1167.64,641.1 1168.36,638.4 1169.09,679.4 1169.81,654.4 1170.53,662 1171.26,668.2 1171.98,700.2 1172.71,723.9 1173.43,667.4 1174.15,719.3 1174.88,683.6 1175.6,699.9 1176.32,663.9 1177.05,642.7 1177.77,682.1 1178.5,702.1 1179.22,635.6 1179.94,668.8 1180.67,675.5 1181.39,684.9 1182.11,646.1 1182.84,657.8 1183.56,693.1 1184.28,714.8 1185.01,672.7 1185.73,694.4 1186.46,674.4 1187.18,680.8 1187.9,661.6 1188.63,665.1 1189.35,657.4 1190.07,672.6 1190.8,697.4 1191.52,674.8 1192.25,686.3 1192.97,656 1193.69,687.8 1194.42,610.8 1195.14,638.6 1195.86,662.6 1196.59,629.8 1197.31,684 1198.03,675.1 1198.76,649.8 1199.48,672.3 1200.21,636.6 1200.93,649.9 1201.65,661.5 1202.38,634.4 1203.1,695.8 1203.82,655.4 1204.55,695.3 1205.27,666.7 1206,677.6 1206.72,649.8 1207.44,663.2 1208.17,660.6 1208.89,675.8 1209.61,704 1210.34,657.5 1211.06,666.4 1211.79,678.9 1212.51,691.2 1213.23,667.5 1213.96,661.5 1214.68,657.1 1215.4,670.2 1216.13,675.9 1216.85,654.9 1217.57,663.2 1218.3,688.7 1219.02,669.4 1219.75,657.3 1220.47,687.4 1221.19,687.5 1221.92,685.1 1222.64,686.4 1223.36,661.2 1224.09,675 1224.81,677.7 1225.54,672.9 1226.26,631.2 1226.98,669.5 1227.71,678.5 1228.43,682.1 1229.15,663.3 1229.88,670.6 1230.6,630 1231.33,636.9 1232.05,610.4 1232.77,664.7 1233.5,709.8 1234.22,712.9 1234.94,644.9 1235.67,685.8 1236.39,700.8 1237.11,663 1237.84,626.4 1238.56,704.8 1239.29,661.8 1240.01,661 1240.73,711.8 1241.46,681.2 1242.18,690.4 1242.9,709.1 1243.63,666.3 1244.35,648.1 1245.08,689.1 1245.8,669.7 1246.52,688.1 1247.25,679.7 1247.97,653 1248.69,670.6 1249.42,662.4 1250.14,664.6 1250.87,668.9 1251.59,678.5 1252.31,674.9 1253.04,641.6 1253.76,685.3 1254.48,637.9 1255.21,724.3 1255.93,652.6 1256.65,668 1257.38,702.3 1258.1,664.7 1258.83,641 1259.55,637.3 1260.27,675.7 1261,678.6 1261.72,688.7 1262.44,674.7 1263.17,657 1263.89,679 1264.62,702.4 1265.34,648.7 1266.06,731.2 1266.79,655.9 1267.51,695.2 1268.23,709.8 1268.96,684.3 1269.68,667.3 1270.4,674.7 1271.13,685.4 1271.85,590.3 1272.58,650 1273.3,620.2 1274.02,601.6 1274.75,601.5 1275.47,584.6 1276.19,571.7 1276.92,540.7 1277.64,555.4 1278.37,513.4 1279.09,535.6 1279.81,545.7 1280.54,583.1 1281.26,589.8 1281.98,626.1 1282.71,611.8 1283.43,668.8 1284.16,664.1 1284.88,640.8 1285.6,619 1286.33,632.7 1287.05,626.7 1287.77,692.7 1288.5,681.8 1289.22,636.1 1289.94,711.2 1290.67,658.7 1291.39,616.1 1292.12,692.9 1292.84,698.6 1293.56,666.9 1294.29,647.2 1295.01,697.7 1295.73,656.3 1296.46,667.2 1297.18,679.4 1297.91,675.5 1298.63,657.9 1299.35,645.2 1300.08,686.9 1300.8,619.7 1301.52,676.6 1302.25,675.2 1302.97,681.6 1303.7,660.6 1304.42,674.2 1305.14,688.4 1305.87,645.9 1306.59,670.3 1307.31,678.4 1308.04,641.2 1308.76,648.2 1309.48,708.1 1310.21,694.7 1310.93,652.7 1311.66,732 1312.38,679.3 1313.1,703.9 1313.83,697.4 1314.55,615.7 1315.27,662.7 1316,703.3 1316.72,709.7 1317.45,655.7 1318.17,642.2 1318.89,675.7 1319.62,655.2 1320.34,669 1321.06,643.6 1321.79,688.3 1322.51,683.5 1323.24,680.7 1323.96,645.2 1324.68,632.2 1325.41,641.2 1326.13,681.6 1326.85,629.8 1327.58,685.6 1328.3,713.1 1329.02,655.5 1329.75,665.3 1330.47,693.7 1331.2,692 1331.92,655.8 1332.64,665.6 1333.37,672.4 1334.09,663.6 1334.81,683.7 1335.54,677.6 1336.26,701.7 1336.99,631.9 1337.71,698.7 1338.43,689.7 1339.16,609.6 1339.88,679.8 1340.6,693.6 1341.33,677 1342.05,664.1 1342.77,676.5 1343.5,654.2 1344.22,640.7 1344.95,650.2 1345.67,652.5 1346.39,674.2 1347.12,689.1 1347.84,675.6 1348.56,705.5 1349.29,667.6 1350.01,655.4 1350.74,653.6 1351.46,649.7 1352.18,662.9 1352.91,703.5 1353.63,637.2 1354.35,683.3 1355.08,669.4 1355.8,690.4 1356.53,659.4 1357.25,687.8 1357.97,658.9 1358.7,685.6 1359.42,626.9 1360.14,682.2 1360.87,688.5 1361.59,635 1362.31,691.1 1363.04,645.2 1363.76,694.7 1364.49,670.3 1365.21,687.3 1365.93,679.6 1366.66,644 1367.38,708.7 1368.1,700.6 1368.83,648 1369.55,743 1370.28,682.1 1371,655.6 1371.72,647.7 1372.45,702.4 1373.17,661.9 1373.89,693.2 1374.62,717.8 1375.34,682.9 1376.07,651.2 1376.79,695.2 1377.51,640.5 1378.24,650.8 1378.96,735.6 1379.68,653.3 1380.41,679.6 1381.13,647.5 1381.85,668.1 1382.58,675.9 1383.3,612.4 1384.03,656.3 1384.75,687.2 1385.47,692.3 1386.2,679.2 1386.92,649.8 1387.64,680.5 1388.37,659.7 1389.09,653.6 1389.82,670.7 1390.54,726.8 1391.26,650.6 1391.99,696.3 1392.71,676.9 1393.43,637.8 1394.16,650.3 1394.88,666.6 1395.61,660 1396.33,677 1397.05,648.5 1397.78,648 1398.5,695.2 1399.22,669.7 1399.95,651.5 1400.67,670.4 1401.39,715.6 1402.12,657.4 1402.84,637.4 1403.57,693.4 1404.29,718.7 1405.01,701.3 1405.74,641.1 1406.46,624.7 1407.18,701.2 1407.91,666 1408.63,682.4 1409.36,665.7 1410.08,711.3 1410.8,671.6 1411.53,662.7 1412.25,673.2 1412.97,643.2 1413.7,673.6 1414.42,667.5 1415.14,622.8 1415.87,644.2 1416.59,641.6 1417.32,634.6 1418.04,678 1418.76,605.5 1419.49,677 1420.21,636.3 1420.93,629.7 1421.66,688.2 1422.38,662 1423.11,666.6 1423.83,640.2 1424.55,624 1425.28,723.2 1426,655.2 1426.72,664.3 1427.45,643.3 1428.17,706.1 1428.9,660.6 1429.62,664.8 1430.34,669.3 1431.07,667.9 1431.79,703.1 1432.51,628.1 1433.24,683.5 1433.96,654.4 1434.68,659 1435.41,654.4 1436.13,678.4 1436.86,639.7 1437.58,656 1438.3,681.6 1439.03,655.2 1439.75,657.3 1440.47,677 1441.2,669.8 1441.92,660.4 1442.65,668.9 1443.37,737.5 1444.09,688.7 1444.82,643.6 1445.54,632.3 1446.26,677.9 1446.99,638.6 1447.71,646.4 1448.44,662.7 1449.16,684.7 1449.88,656.8 1450.61,657.6 1451.33,657.9 1452.05,676.3 1452.78,655.9 1453.5,672.9 1454.22,700.4 1454.95,765 1455.67,658.8 1456.4,646.5 1457.12,650.3 1457.84,639.6 1458.57,642.7 1459.29,654.1 1460.01,674.9 1460.74,678.5 1461.46,657.3 1462.19,674.4 1462.91,638.2 1463.63,717.4 1464.36,727.4 1465.08,664.1 1465.8,678.9 1466.53,668.9 1467.25,685.6 1467.98,652.8 1468.7,633.3 1469.42,686.3 1470.15,642.7 1470.87,675.1 1471.59,646.4 1472.32,649.7 1473.04,690.6 1473.76,706.1 1474.49,663.2 1475.21,657.3 1475.94,673.8 1476.66,654.6 1477.38,628.6 1478.11,666.1 1478.83,617.4 1479.55,676.9 1480.28,655.5 1481,671 1481.73,634.2 1482.45,650 1483.17,680.3 1483.9,699.9 1484.62,686.9 1485.34,736 1486.07,642 1486.79,680.3 1487.51,669.5 1488.24,659.5 1488.96,698.3 1489.69,649.5 1490.41,709.5 1491.13,652.2 1491.86,651.5 1492.58,664.2 1493.3,637.4 1494.03,656 1494.75,668.1 1495.48,629.1 1496.2,648.1 1496.92,635.7 1497.65,656.6 1498.37,694.1 1499.09,656.7 1499.82,662.1 1500.54,671.6 1501.27,641.8 1501.99,671.6 1502.71,654.8 1503.44,652 1504.16,628.6 1504.88,652.3 1505.61,691.5 1506.33,695.8 1507.05,659.7 1507.78,667.8 1508.5,657 1509.23,642.1 1509.95,626.7 1510.67,708.1 1511.4,644.6 1512.12,671.4 1512.84,704.4 1513.57,658 1514.29,662.9 1515.02,673 1515.74,658.8 1516.46,672.7 1517.19,659.4 1517.91,694.6 1518.63,678.8 1519.36,640.9 1520.08,637.8 1520.81,652.9 1521.53,653.7 1522.25,650.9 1522.98,689.9 1523.7,651.4 1524.42,657.3 1525.15,670.8 1525.87,623.7 1526.59,677.9 1527.32,681.6 1528.04,701.8 1528.77,645.9 1529.49,657.3 1530.21,672.7 1530.94,659.3 1531.66,635.6 1532.38,689.9 1533.11,661.4 1533.83,676.3 1534.56,644.1 1535.28,691.3 1536,660.1 1536.73,652 1537.45,687.2 1538.17,695 1538.9,647.3 1539.62,692.3 1540.35,707.7 1541.07,674.3 1541.79,636.9 1542.52,681.9 1543.24,694.1 1543.96,645.5 1544.69,709.1 1545.41,663.6 1546.13,665.3 1546.86,694.9 1547.58,673.1 1548.31,736 1549.03,667.7 1549.75,677.6 1550.48,668.6 1551.2,673.9 1551.92,682.4 1552.65,679.9 1553.37,661.4 1554.1,691.1 1554.82,666.1 1555.54,697.6 1556.27,683.2 1556.99,666.1 1557.71,651.9 1558.44,669.1 1559.16,702.2 1559.88,672.8 1560.61,692 1561.33,666.2 1562.06,661.1 1562.78,652.7 1563.5,625.3 1564.23,675.7 1564.95,668.9 1565.67,666.9 1566.4,687.2 1567.12,646.3 1567.85,709.7 1568.57,635.7 1569.29,674.1 1570.02,641.7 1570.74,661.9 1571.46,696.3 1572.19,635 1572.91,672.2 1573.64,670.5 1574.36,672.2 1575.08,674 1575.81,687.5 1576.53,679.9 1577.25,677 1577.98,689.7 1578.7,684.1 1579.42,664.9 1580.15,640.7 1580.87,687.3 1581.6,660.1 1582.32,708.2 1583.04,655.4 1583.77,641.2 1584.49,695.5 1585.21,651.3 1585.94,634.7 1586.66,696.6 1587.39,635.6 1588.11,700 1588.83,646.6 1589.56,677.6 1590.28,673 1591,627.6 1591.73,667.2 1592.45,658.3 1593.18,670.6 1593.9,680.6 1594.62,706.4 1595.35,662.3 1596.07,665.3 1596.79,720.5 1597.52,685.3 1598.24,686.2 1598.96,633.9 1599.69,636.8 1600.41,655.3 1601.14,663.4 1601.86,679.5 1602.58,734.3 1603.31,639.9 1604.03,658.4 1604.75,682.9 1605.48,674.1 1606.2,695 1606.93,661.1 1607.65,647.7 1608.37,718.9 1609.1,678.2 1609.82,641.1 1610.54,659.8 1611.27,666 1611.99,634.5 1612.72,686.3 1613.44,670.9 1614.16,659.1 1614.89,652.8 1615.61,707.6 1616.33,665.3 1617.06,650 1617.78,621.9 1618.5,643.5 1619.23,683.9 1619.95,703.5 1620.68,641.2 1621.4,621.8 1622.12,667.5 1622.85,665.7 1623.57,687.9 1624.29,651.1 1625.02,669.3 1625.74,625.9 1626.47,639.5 1627.19,654.7 1627.91,656.9 1628.64,679.7 1629.36,696.7 1630.08,635.4 1630.81,708.1 1631.53,650.2 1632.25,657.4 1632.98,694.4 1633.7,613.9 1634.43,634.8 1635.15,648.5 1635.87,668.7 1636.6,693.3 1637.32,693.7 1638.04,646.7 1638.77,685.2 1639.49,657.6 1640.22,703.5 1640.94,660.8 1641.66,692.9 1642.39,644.3 1643.11,686 1643.83,636.8 1644.56,669.5 1645.28,631.3 1646.01,663.8 1646.73,649.6 1647.45,645.5 1648.18,672.9 1648.9,686.3 1649.62,669.8 1650.35,674.6 1651.07,684.8 1651.79,697.1 1652.52,692.1 1653.24,677 1653.97,716.3 1654.69,655.9 1655.41,686.7 1656.14,641.9 1656.86,726 1657.58,661.6 1658.31,670.8 1659.03,701 1659.76,662.8 1660.48,648.4 1661.2,626.1 1661.93,660.9 1662.65,717.2 1663.37,670.9 1664.1,709.5 1664.82,687.2 1665.55,656.9 1666.27,635.6 1666.99,662.4 1667.72,681.8 1668.44,661.8 1669.16,670.7 1669.89,680.7 1670.61,658.5 1671.33,634.4 1672.06,659.1 1672.78,680.2 1673.51,648 1674.23,642.8 1674.95,643.9 1675.68,660.8 1676.4,663.1 1677.12,664.6 1677.85,637.8 1678.57,666.3 1679.3,651.8 1680.02,644.8 1680.74,624.8 1681.47,640.9 1682.19,651.8 1682.91,668.6 1683.64,675.1 1684.36,665.9 1685.09,670.6 1685.81,640.2 1686.53,684.6 1687.26,685 1687.98,681.7 1688.7,654.1 1689.43,663.1 1690.15,654.6 1690.87,635.8 1691.6,657.3 1692.32,630.7 1693.05,625.8 1693.77,678.3 1694.49,678 1695.22,685 1695.94,654.8 1696.66,665 1697.39,677.3 1698.11,656.1 1698.84,619.3 1699.56,719.2 1700.28,694.4 1701.01,694.7 1701.73,666 1702.45,646.2 1703.18,665.6 1703.9,670.6 1704.62,633.3 1705.35,652.8 1706.07,676.8 1706.8,699.9 1707.52,677.6 1708.24,653.5 1708.97,633.9 1709.69,711.7 1710.41,664.4 1711.14,679.8 1711.86,661.2 1712.59,630.4 1713.31,712.3 1714.03,674.4 1714.76,686.8 1715.48,638.3 1716.2,653.1 1716.93,684.8 1717.65,641.3 1718.38,630.2 1719.1,617.6 1719.82,608.3 1720.55,650.6 1721.27,623.5 1721.99,581.6 1722.72,641.1 1723.44,625.2 1724.16,611.3 1724.89,548.3 1725.61,569.3 1726.34,577.7 1727.06,533.6 1727.78,529.5 1728.51,531.3 1729.23,507.4 1729.95,535.6 1730.68,550.6 1731.4,553.3 1732.13,575.5 1732.85,564.1 1733.57,572.8 1734.3,580.9 1735.02,582.1 1735.74,584.3 1736.47,598.8 1737.19,619.6 1737.92,617.2 1738.64,636.9 1739.36,641.4 1740.09,659.2 1740.81,636.3 1741.53,605.4 1742.26,631.8 1742.98,701.5 1743.7,674.7 1744.43,648.6 1745.15,654.1 1745.88,657.5 1746.6,649.8 1747.32,665.6 1748.05,678.2 1748.77,691.8 1749.49,654.2 1750.22,656.2 1750.94,655.6 1751.67,663.9 1752.39,689.6 1753.11,647.1 1753.84,718.3 1754.56,677.8 1755.28,691.7 1756.01,644.7 1756.73,656.5 1757.46,653.3 1758.18,666.2 1758.9,620.3 1759.63,677.6 1760.35,628.4 1761.07,674.9 1761.8,690.9 1762.52,664.6 1763.24,662.3 1763.97,662.4 1764.69,661.4 1765.42,673 1766.14,689 1766.86,682.8 1767.59,704 1768.31,669.5 1769.03,656 1769.76,657.1 1770.48,640.3 1771.21,659.1 1771.93,654.8 1772.65,712.1 1773.38,681.1 1774.1,712.6 1774.82,626.3 1775.55,675.9 1776.27,693.9 1776.99,676.7 1777.72,658.4 1778.44,673 1779.17,671.4 1779.89,672.2 1780.61,675.6 1781.34,692.4 1782.06,674.7 1782.78,676.3 1783.51,669.8 1784.23,680.6 1784.96,653.7 1785.68,683.8 1786.4,662.4 1787.13,690.8 1787.85,656.7 1788.57,668.6 1789.3,665.8 1790.02,647.5 1790.75,695.8 1791.47,679.3 1792.19,671 1792.92,700.4 1793.64,602.7 1794.36,669.7 1795.09,697.3 1795.81,730.2 1796.53,672.3 1797.26,710 1797.98,674.6 1798.71,652.5 1799.43,682.7 1800.15,700.7 1800.88,675.1 1801.6,681.8 1802.32,646.3 1803.05,620.2 1803.77,676 1804.5,638.1 1805.22,667.6 1805.94,654.5 1806.67,672.3 1807.39,689.5 1808.11,631.2 1808.84,664.4 1809.56,664.3 1810.29,700.5 1811.01,669 1811.73,649.4 1812.46,654.6 1813.18,711.4 1813.9,647.9 1814.63,668.5 1815.35,673.8 1816.07,642.2 1816.8,649.5 1817.52,624.1 1818.25,647.5 1818.97,683.5 1819.69,672.7 1820.42,626 1821.14,702.6 1821.86,638.4 1822.59,646.7 1823.31,706.9 1824.04,679 1824.76,665.9 1825.48,704.2 1826.21,666 1826.93,676.1 1827.65,655.2 1828.38,665 1829.1,666.1 1829.83,694.6 1830.55,653.9 1831.27,663.3 1832,620.1 1832.72,630.1 1833.44,684.6 1834.17,659 1834.89,659.9 1835.61,682.3 1836.34,660.2 1837.06,669.8 1837.79,661.2 1838.51,623.2 1839.23,682.3 1839.96,703.6 1840.68,696.1 1841.4,668.6 1842.13,673.5 1842.85,676.5 1843.58,703.9 1844.3,696.2 1845.02,659.4 1845.75,664 1846.47,662.4 1847.19,654.1 1847.92,653.2 1848.64,663.7 1849.36,613.8 1850.09,675.3 1850.81,656.2 1851.54,639.5 1852.26,661.9 1852.98,649.5 1853.71,695.1 1854.43,744 1855.15,667.2 1855.88,673.9 1856.6,647.5 1857.33,638.8 1858.05,674.7 1858.77,656.9 1859.5,645.1 1860.22,634.2 1860.94,680.3 1861.67,702 1862.39,654.1 1863.12,678.2 1863.84,692 1864.56,689.8 1865.29,653 1866.01,678.4 1866.73,682.2 1867.46,727.4 1868.18,671 1868.9,691.3 1869.63,685.9 1870.35,681.9 1871.08,644.9 1871.8,673.4 1872.52,702.7 1873.25,658.5 1873.97,672.3 1874.69,649.7 1875.42,673.1 1876.14,674.9 1876.87,683.2 1877.59,657.9 1878.31,657.2 1879.04,654.1 1879.76,672.6 1880.48,670.3 1881.21,719.8 1881.93,652.2 1882.66,682.1 1883.38,653.7 1884.1,655.2 1884.83,690.9 1885.55,674.9 1886.27,677.3 1887,635.8 1887.72,726.1 1888.44,713.5 1889.17,648.3 1889.89,634.6 1890.62,647.5 1891.34,668.1 1892.06,642.1 1892.79,668 1893.51,646.7 1894.23,725.6 1894.96,654.2 1895.68,648.5 1896.41,704.6 1897.13,663.4 1897.85,654 1898.58,650.9 1899.3,662.4 1900.02,637.1 1900.75,645 1901.47,626.7 1902.2,605.5 1902.92,620 1903.64,622.7 1904.37,643.9 1905.09,606.2 1905.81,585.7 1906.54,582.7 1907.26,578.6 1907.98,526.2 1908.71,539.5 1909.43,508.1 1910.16,503.8 1910.88,506.4 1911.6,506.8 1912.33,505.8 1913.05,507.2 1913.77,525.1 1914.5,521.6 1915.22,530.2 1915.95,532.4 1916.67,575.8 1917.39,580.2 1918.12,563.3 1918.84,574.4 1919.56,609.3 1920.29,624.5 1921.01,607.5 1921.73,645.8 1922.46,605 1923.18,631.3 1923.91,663 1924.63,632.2 1925.35,651.1 1926.08,650.4 1926.8,647.6 1927.52,615.6 1928.25,650 1928.97,662.5 1929.7,664.3 1930.42,678.6 1931.14,683.7 1931.87,654.5 1932.59,658 1933.31,703.5 1934.04,685.1 1934.76,665 1935.49,660.2 1936.21,690.7 1936.93,691.2 1937.66,664 1938.38,677.2 1939.1,667.5 1939.83,666 1940.55,711.7 1941.27,639.9 1942,685.7 1942.72,645.1 1943.45,652.8 1944.17,688.3 1944.89,639.9 1945.62,648 1946.34,643.9 1947.06,655.6 1947.79,675.8 1948.51,696.6 1949.24,654.6 1949.96,690.7 1950.68,642.7 1951.41,720 1952.13,659 1952.85,658.3 1953.58,675 1954.3,670.8 1955.03,664.9 1955.75,632.1 1956.47,688.8 1957.2,685.5 1957.92,659.9 1958.64,643.3 1959.37,674.7 1960.09,695.2 1960.81,631 1961.54,644.3 1962.26,670.5 1962.99,651 1963.71,661 1964.43,666.3 1965.16,687.2 1965.88,687.3 1966.6,692.2 1967.33,690.4 1968.05,655.2 1968.78,617.1 1969.5,676.2 1970.22,679.5 1970.95,679.5 1971.67,654.4 1972.39,714.9 1973.12,633 1973.84,688.4 1974.57,684 1975.29,691.2 1976.01,702.7 1976.74,681 1977.46,677.2 1978.18,663 1978.91,687.7 1979.63,678.6 1980.35,688.5 1981.08,644.8 1981.8,636.6 1982.53,670.8 1983.25,682.1 1983.97,636.5 1984.7,647.7 1985.42,662 1986.14,676.5 1986.87,677.3 1987.59,693.5 1988.32,666.2 1989.04,679.9 1989.76,700.6 1990.49,664 1991.21,724.4 1991.93,662.1 1992.66,673 1993.38,629.5 1994.1,668.3 1994.83,658.7 1995.55,656.4 1996.28,677.2 1997,646.6 1997.72,675.6 1998.45,627.5 1999.17,659.6 1999.89,702.9 2000.62,673.4 2001.34,684.8 2002.07,650.9 2002.79,642.3 2003.51,703.6 2004.24,694.8 2004.96,691 2005.68,670.3 2006.41,698.6 2007.13,661.4 2007.86,687 2008.58,686.2 2009.3,651.3 2010.03,704.6 2010.75,673.6 2011.47,690.1 2012.2,638.4 2012.92,645.1 2013.64,661.5 2014.37,682.9 2015.09,698.5 2015.82,679.7 2016.54,668 2017.26,684.6 2017.99,665.9 2018.71,674.7 2019.43,680.3 2020.16,656 2020.88,680.6 2021.61,639.7 2022.33,653.2 2023.05,686.7 2023.78,656.9 2024.5,682.4 2025.22,676.3 2025.95,666.6 2026.67,707.2 2027.4,682.3 2028.12,658.3 2028.84,659.9 2029.57,673.8 2030.29,638.9 2031.01,698.5 2031.74,669.3 2032.46,634.1 2033.18,649.6 2033.91,704.7 2034.63,676.2 2035.36,722.9 2036.08,671.4 2036.8,682 2037.53,717.8 2038.25,722.1 2038.97,650.9 2039.7,692.1 2040.42,648.3 2041.15,660.9 2041.87,633.4 2042.59,684.9 2043.32,649.1 2044.04,654.2 2044.76,717.1 2045.49,692.2 2046.21,667.3 2046.94,736 2047.66,678.5 2048.38,621.6 2049.11,651.5 2049.83,687 2050.55,690.4 2051.28,674.5 2052,690.6 2052.72,675.6 2053.45,654.3 2054.17,671.6 2054.9,712.7 2055.62,670.1 2056.34,678.4 2057.07,684.3 2057.79,641.4 2058.51,649.1 2059.24,637.4 2059.96,679.7 2060.69,663.4 2061.41,644.5 2062.13,643.9 2062.86,688.7 2063.58,691.1 2064.3,681 2065.03,671.7 2065.75,683.2 2066.47,671.4 2067.2,679.6 2067.92,662.2 2068.65,649.1 2069.37,654.9 2070.09,677.1 2070.82,711.4 2071.54,652.5 2072.26,647 2072.99,688.2 2073.71,688.4 2074.44,655.3 2075.16,658.1 2075.88,657.8 2076.61,678.4 2077.33,738.1 2078.05,655 2078.78,677.7 2079.5,659.8 2080.23,673.9 2080.95,680.3 2081.67,677 2082.4,648.8 2083.12,649 2083.84,692.6 2084.57,676.6 2085.29,674.7 2086.01,683.9 2086.74,654 2087.46,698.9 2088.19,652.5 2088.91,646.9 2089.63,648.6 2090.36,667.1 2091.08,733.1 2091.8,670.8 2092.53,676.5 2093.25,706.5 2093.98,661.7 2094.7,639.2 2095.42,655.9 2096.15,661.2 2096.87,634 2097.59,663.5 2098.32,671.4 2099.04,718.1 2099.77,688 2100.49,672 2101.21,658 2101.94,653.3 2102.66,630 2103.38,665.8 2104.11,620.3 2104.83,665.5 2105.55,708.2 2106.28,660.4 2107,678.5 2107.73,602.7 2108.45,628.3 2109.17,674.5 2109.9,663.3 2110.62,679.6 2111.34,671.4 2112.07,683 2112.79,658.5 2113.52,681.3 2114.24,692.7 2114.96,657.4 2115.69,661.8 2116.41,694 2117.13,680.6 2117.86,664.3 2118.58,635.9 2119.31,663.1 2120.03,704.8 2120.75,659.6 2121.48,665.2 2122.2,649.8 2122.92,666.9 2123.65,669.2 2124.37,675.8 2125.09,655.2 2125.82,645.2 2126.54,719.3 2127.27,672.6 2127.99,650.8 2128.71,612 2129.44,680.3 2130.16,695.1 2130.88,676.2 2131.61,662.2 2132.33,681.3 2133.06,639.6 2133.78,649.2 2134.5,699 2135.23,674.1 2135.95,668.2 2136.67,655.9 2137.4,644.5 2138.12,675.4 2138.84,670.4 2139.57,710.9 2140.29,651.4 2141.02,669.8 2141.74,661.9 2142.46,650.3 2143.19,713 2143.91,702.2 2144.63,672.7 2145.36,639.5 2146.08,676.7 2146.81,681.2 2147.53,656.4 2148.25,635.1 2148.98,712.4 2149.7,640 2150.42,695.2 2151.15,654.9 2151.87,660.9 2152.6,693.5 2153.32,644.8 2154.04,662.2 2154.77,668.2 2155.49,697.3 2156.21,693.3 2156.94,672.4 2157.66,642.8 2158.38,697.9 2159.11,660.6 2159.83,676.1 2160.56,629.6 2161.28,665.8 2162,681.6 2162.73,661.9 2163.45,684.1 2164.17,700.6 2164.9,707.6 2165.62,657.7 2166.35,636.7 2167.07,616.7 2167.79,662.6 2168.52,634.5 2169.24,680.5 2169.96,624.3 2170.69,695.1 2171.41,670.6 2172.14,634.9 2172.86,675.7 2173.58,682.9 2174.31,682.6 2175.03,669 2175.75,683.8 2176.48,681.5 2177.2,661.7 2177.92,671 2178.65,640.9 2179.37,687.2 2180.1,641 2180.82,665 2181.54,643.5 2182.27,691.2 2182.99,672.4 2183.71,646.3 2184.44,674.7 2185.16,663.9 2185.89,684.2 2186.61,669.3 2187.33,667.4 2188.06,663.3 2188.78,632.7 2189.5,679.3 2190.23,685.8 2190.95,647.3 2191.68,680 2192.4,696.1 2193.12,690 2193.85,699.5 2194.57,690.2 2195.29,660.1 2196.02,721.6 2196.74,671 2197.46,657.3 2198.19,705.2 2198.91,655.2 2199.64,691.1 2200.36,653.5 2201.08,698.8 2201.81,701.9 2202.53,661.2 2203.25,684.9 2203.98,688.4 2204.7,736 2205.43,683.7 2206.15,669.1 2206.87,657.4 2207.6,650.1 2208.32,678.4 2209.04,684.7 2209.77,691.8 2210.49,683.6 2211.21,688.6 2211.94,664.6 2212.66,714.3 2213.39,654.7 2214.11,691.2 2214.83,669.2 2215.56,666.7 2216.28,722.5 2217,686.1 2217.73,648.7 2218.45,682.5 2219.18,663.8 2219.9,718.6 2220.62,656 2221.35,675.3 2222.07,662.3 2222.79,661 2223.52,691 2224.24,700.8 2224.97,703.6 2225.69,670.8 2226.41,661.1 2227.14,686.8 2227.86,665.1 2228.58,711.4 2229.31,643.8 2230.03,684.5 2230.75,647.1 2231.48,652.1 2232.2,639.1 2232.93,645.2 2233.65,685.6 2234.37,657.5 2235.1,649.7 2235.82,646.4 2236.54,652.5 2237.27,662.8 2237.99,693 2238.72,672.5 2239.44,670.9 2240.16,669.3 2240.89,689 2241.61,651.8 2242.33,679.4 2243.06,647.9 2243.78,649 2244.51,686.8 2245.23,673 2245.95,667.4 2246.68,650.8 2247.4,682.4 2248.12,723.9 2248.85,685.3 2249.57,685.6 2250.29,669.9 2251.02,700.4 2251.74,663.7 2252.47,738.5 2253.19,678.4 2253.91,673.8 2254.64,701.8 2255.36,648.7 2256.08,657.7 2256.81,656.9 2257.53,667.7 2258.26,714.7 2258.98,652.3 2259.7,731.8 2260.43,695.9 2261.15,710.4 2261.87,678.1 2262.6,640 2263.32,646.8 2264.05,704.3 2264.77,665.6 2265.49,681.1 2266.22,679.5 2266.94,708 2267.66,703.5 2268.39,680.2 2269.11,674.3 2269.83,695.4 2270.56,647.9 2271.28,655.4 2272.01,641.5 2272.73,649.2 2273.45,635.5 2274.18,687.8 2274.9,660.5 2275.62,708 2276.35,657.1 2277.07,669.7 2277.8,651.4 2278.52,678.2 2279.24,673.8 2279.97,651.4 2280.69,665.4 2281.41,640.7 2282.14,644.3 2282.86,634.2 2283.58,676.1 2284.31,635.3 2285.03,632.1 2285.76,678.3 2286.48,653.6 2287.2,627.5 2287.93,633.4 2288.65,645.3 2289.37,635.1 2290.1,657.8 2290.82,635.2 2291.55,636 2292.27,681.3 2292.99,703.9 2293.72,696.8 2294.44,657.4 2295.16,679.6 2295.89,663.4 2296.61,711.3 2297.34,676.1 2298.06,681.2 2298.78,715.5 2299.51,700.4 2300.23,674 2300.95,649.6 2301.68,663.6 2302.4,641.6 2303.12,712 2303.85,668.3 2304.57,688.7 2305.3,676.8 2306.02,656.3 2306.74,678.9 2307.47,681.2 2308.19,671.2 2308.91,671.5 2309.64,680.3 2310.36,651.8 2311.09,669.6 2311.81,662.3 2312.53,655.9 2313.26,675.5 2313.98,625.4 2314.7,642.7 2315.43,667.6 2316.15,708.8 2316.88,685.6 2317.6,655.8 2318.32,706.4 2319.05,675.4 2319.77,657.5 2320.49,669.1 2321.22,707.9 2321.94,691 2322.66,656.6 2323.39,649.2 2324.11,685.9 2324.84,646.9 2325.56,661.4 2326.28,688.4 2327.01,649.4 2327.73,654.6 2328.45,676.9 2329.18,665.7 2329.9,702.8 2330.63,671.6 2331.35,686.2 2332.07,687.4 2332.8,747 2333.52,691.6 2334.24,702.9 2334.97,667.8 2335.69,659.5 2336.42,666.1 2337.14,705.2 2337.86,671.1 2338.59,661 2339.31,644.9 2340.03,670.7 2340.76,642.9 2341.48,693.3 2342.2,654.3 2342.93,644.2 2343.65,694.6 2344.38,679.2 2345.1,682.4 2345.82,651.6 2346.55,689.5 2347.27,678.5 2347.99,675.1 2348.72,692.4 2349.44,696.5 2350.17,670 2350.89,708.5 2351.61,684.1 2352.34,669.7 2353.06,686.4 2353.78,677.4 2354.51,708.2 2355.23,677.7 2355.95,668.5 2356.68,671.6 2357.4,690.8 2358.13,638.3 2358.85,643.7 2359.57,666 2360.3,682.2 2361.02,686.4 2361.74,664.7 2362.47,637.9 2363.19,626 2363.92,666.8 2364.64,661.4 2365.36,677.3 2366.09,693.7 2366.81,652 2367.53,703.1 2368.26,661.7 2368.98,666.7 2369.71,674.4 2370.43,630.3 2371.15,726.9 2371.88,664.1" fill="none" stroke="#f00" stroke-width="4" stroke-linejoin="round" stroke-linecap="round" shape-rendering="crispEdges"/>
<g stroke="#000" stroke-width="5.5" fill="none" shape-rendering="crispEdges">
<line x1="201.5" y1="37.5" x2="201.5" y2="1654.5"/>
<line x1="172" y1="1627.0" x2="2375.2" y2="1627.0"/>
<line x1="511.6" y1="1627.0" x2="511.6" y2="1654.5"/>
<line x1="821.8" y1="1627.0" x2="821.8" y2="1654.5"/>
<line x1="1131.9" y1="1627.0" x2="1131.9" y2="1654.5"/>
<line x1="1442.1" y1="1627.0" x2="1442.1" y2="1654.5"/>
<line x1="1752.2" y1="1627.0" x2="1752.2" y2="1654.5"/>
<line x1="2062.4" y1="1627.0" x2="2062.4" y2="1654.5"/>
<line x1="2372.5" y1="1627.0" x2="2372.5" y2="1654.5"/>
<line x1="356.6" y1="1627.0" x2="356.6" y2="1641.0"/>
<line x1="666.7" y1="1627.0" x2="666.7" y2="1641.0"/>
<line x1="976.9" y1="1627.0" x2="976.9" y2="1641.0"/>
<line x1="1287.0" y1="1627.0" x2="1287.0" y2="1641.0"/>
<line x1="1597.1" y1="1627.0" x2="1597.1" y2="1641.0"/>
<line x1="1907.3" y1="1627.0" x2="1907.3" y2="1641.0"/>
<line x1="2217.4" y1="1627.0" x2="2217.4" y2="1641.0"/>
<line x1="172" y1="1348.6" x2="201.5" y2="1348.6"/>
<line x1="172" y1="1070.2" x2="201.5" y2="1070.2"/>
<line x1="172" y1="791.8" x2="201.5" y2="791.8"/>
<line x1="172" y1="513.4" x2="201.5" y2="513.4"/>
<line x1="172" y1="235.0" x2="201.5" y2="235.0"/>
<line x1="187" y1="1487.8" x2="201.5" y2="1487.8"/>
<line x1="187" y1="1209.4" x2="201.5" y2="1209.4"/>
<line x1="187" y1="931.0" x2="201.5" y2="931.0"/>
<line x1="187" y1="652.6" x2="201.5" y2="652.6"/>
<line x1="187" y1="374.2" x2="201.5" y2="374.2"/>
<line x1="187" y1="95.8" x2="201.5" y2="95.8"/>
</g>
<text transform="translate(159.51,1730.30) scale(1.0129,1.0000)" font-size="80">10</text>
<text transform="translate(471.14,1730.30) scale(1.0000,1.0000)" font-size="80">20</text>
<text transform="translate(781.29,1730.30) scale(1.0000,1.0000)" font-size="80">30</text>
<text transform="translate(1093.48,1730.30) scale(0.9733,1.0000)" font-size="80">40</text>
<text transform="translate(1400.50,1730.30) scale(1.0139,1.0000)" font-size="80">50</text>
<text transform="translate(1712.75,1730.30) scale(0.9865,1.0000)" font-size="80">60</text>
<text transform="translate(2020.61,1730.30) scale(1.0181,1.0000)" font-size="80">70</text>
<text transform="translate(2332.48,1730.30) scale(0.9743,1.0000)" font-size="80">80</text>
<text transform="translate(1107.55,1829.80) scale(1.0369,1.0000)" font-size="95">2θ (deg.)</text>
<text transform="translate(108.70,1128.47) rotate(-90) scale(1.0583,1.0000)" font-size="95">Intensity (a.u.)</text>
<text transform="translate(496.10,580.78) rotate(-90) scale(1.0271,1.0000)" font-size="70">(111)</text>
<text transform="translate(875.30,444.47) rotate(-90) scale(0.9910,1.0000)" font-size="70">(220)</text>
<text transform="translate(1046.90,179.35) rotate(-90) scale(1.0161,1.0000)" font-size="70">(311)</text>
<text transform="translate(1295.70,498.08) rotate(-90) scale(0.9931,1.0000)" font-size="70">(400)</text>
<text transform="translate(1746.30,492.23) rotate(-90) scale(1.0091,1.0000)" font-size="70">(511)</text>
<text transform="translate(1926.90,488.59) rotate(-90) scale(0.9959,1.0000)" font-size="70">(440)</text>
<text transform="translate(496.30,1282.19) rotate(-90) scale(0.9979,1.0000)" font-size="70">(001)</text>
<text transform="translate(915.40,1064.19) rotate(-90) scale(0.9979,1.0000)" font-size="70">(100)</text>
<text transform="translate(1082.40,933.13) rotate(-90) scale(1.0091,1.0000)" font-size="70">(011)</text>
<text transform="translate(1501.90,1049.69) rotate(-90) scale(0.9966,1.0000)" font-size="70">(012)</text>
<text transform="translate(1706.80,1076.43) rotate(-90) scale(1.0112,1.0000)" font-size="70">(110)</text>
<text transform="translate(1815.50,1091.89) rotate(-90) scale(1.0286,1.0000)" font-size="70">(111)</text>
<text transform="translate(1354.83,276.20) scale(1.0231,1.0000)" font-size="64" font-weight="bold">500 °C, 1 h</text>
<text transform="translate(1676.55,276.20) scale(1.0516,1.0000)" font-size="64">(Co</text>
<text transform="translate(1776.26,298.30) scale(1.1188,1.0000)" font-size="40">3</text>
<text transform="translate(1795.09,276.20) scale(1.1366,1.0000)" font-size="64">O</text>
<text transform="translate(1847.02,298.30) scale(0.9778,1.0000)" font-size="40">4</text>
<text transform="translate(1863.18,276.20) scale(1.0085,1.0000)" font-size="64">, JCPDS #42-1467)</text>
<text transform="translate(1218.28,840.90) scale(1.0246,1.0000)" font-size="64" font-weight="bold">100 °C, 3 h</text>
<text transform="translate(1540.19,840.90) scale(1.0695,1.0000)" font-size="64">(β-Co(OH)</text>
<text transform="translate(1846.58,861.50) scale(1.0625,1.0000)" font-size="40">2</text>
<text transform="translate(1863.69,840.90) scale(1.0046,1.0000)" font-size="64">, JCPDS #74-1057)</text>
</svg></body></html>
